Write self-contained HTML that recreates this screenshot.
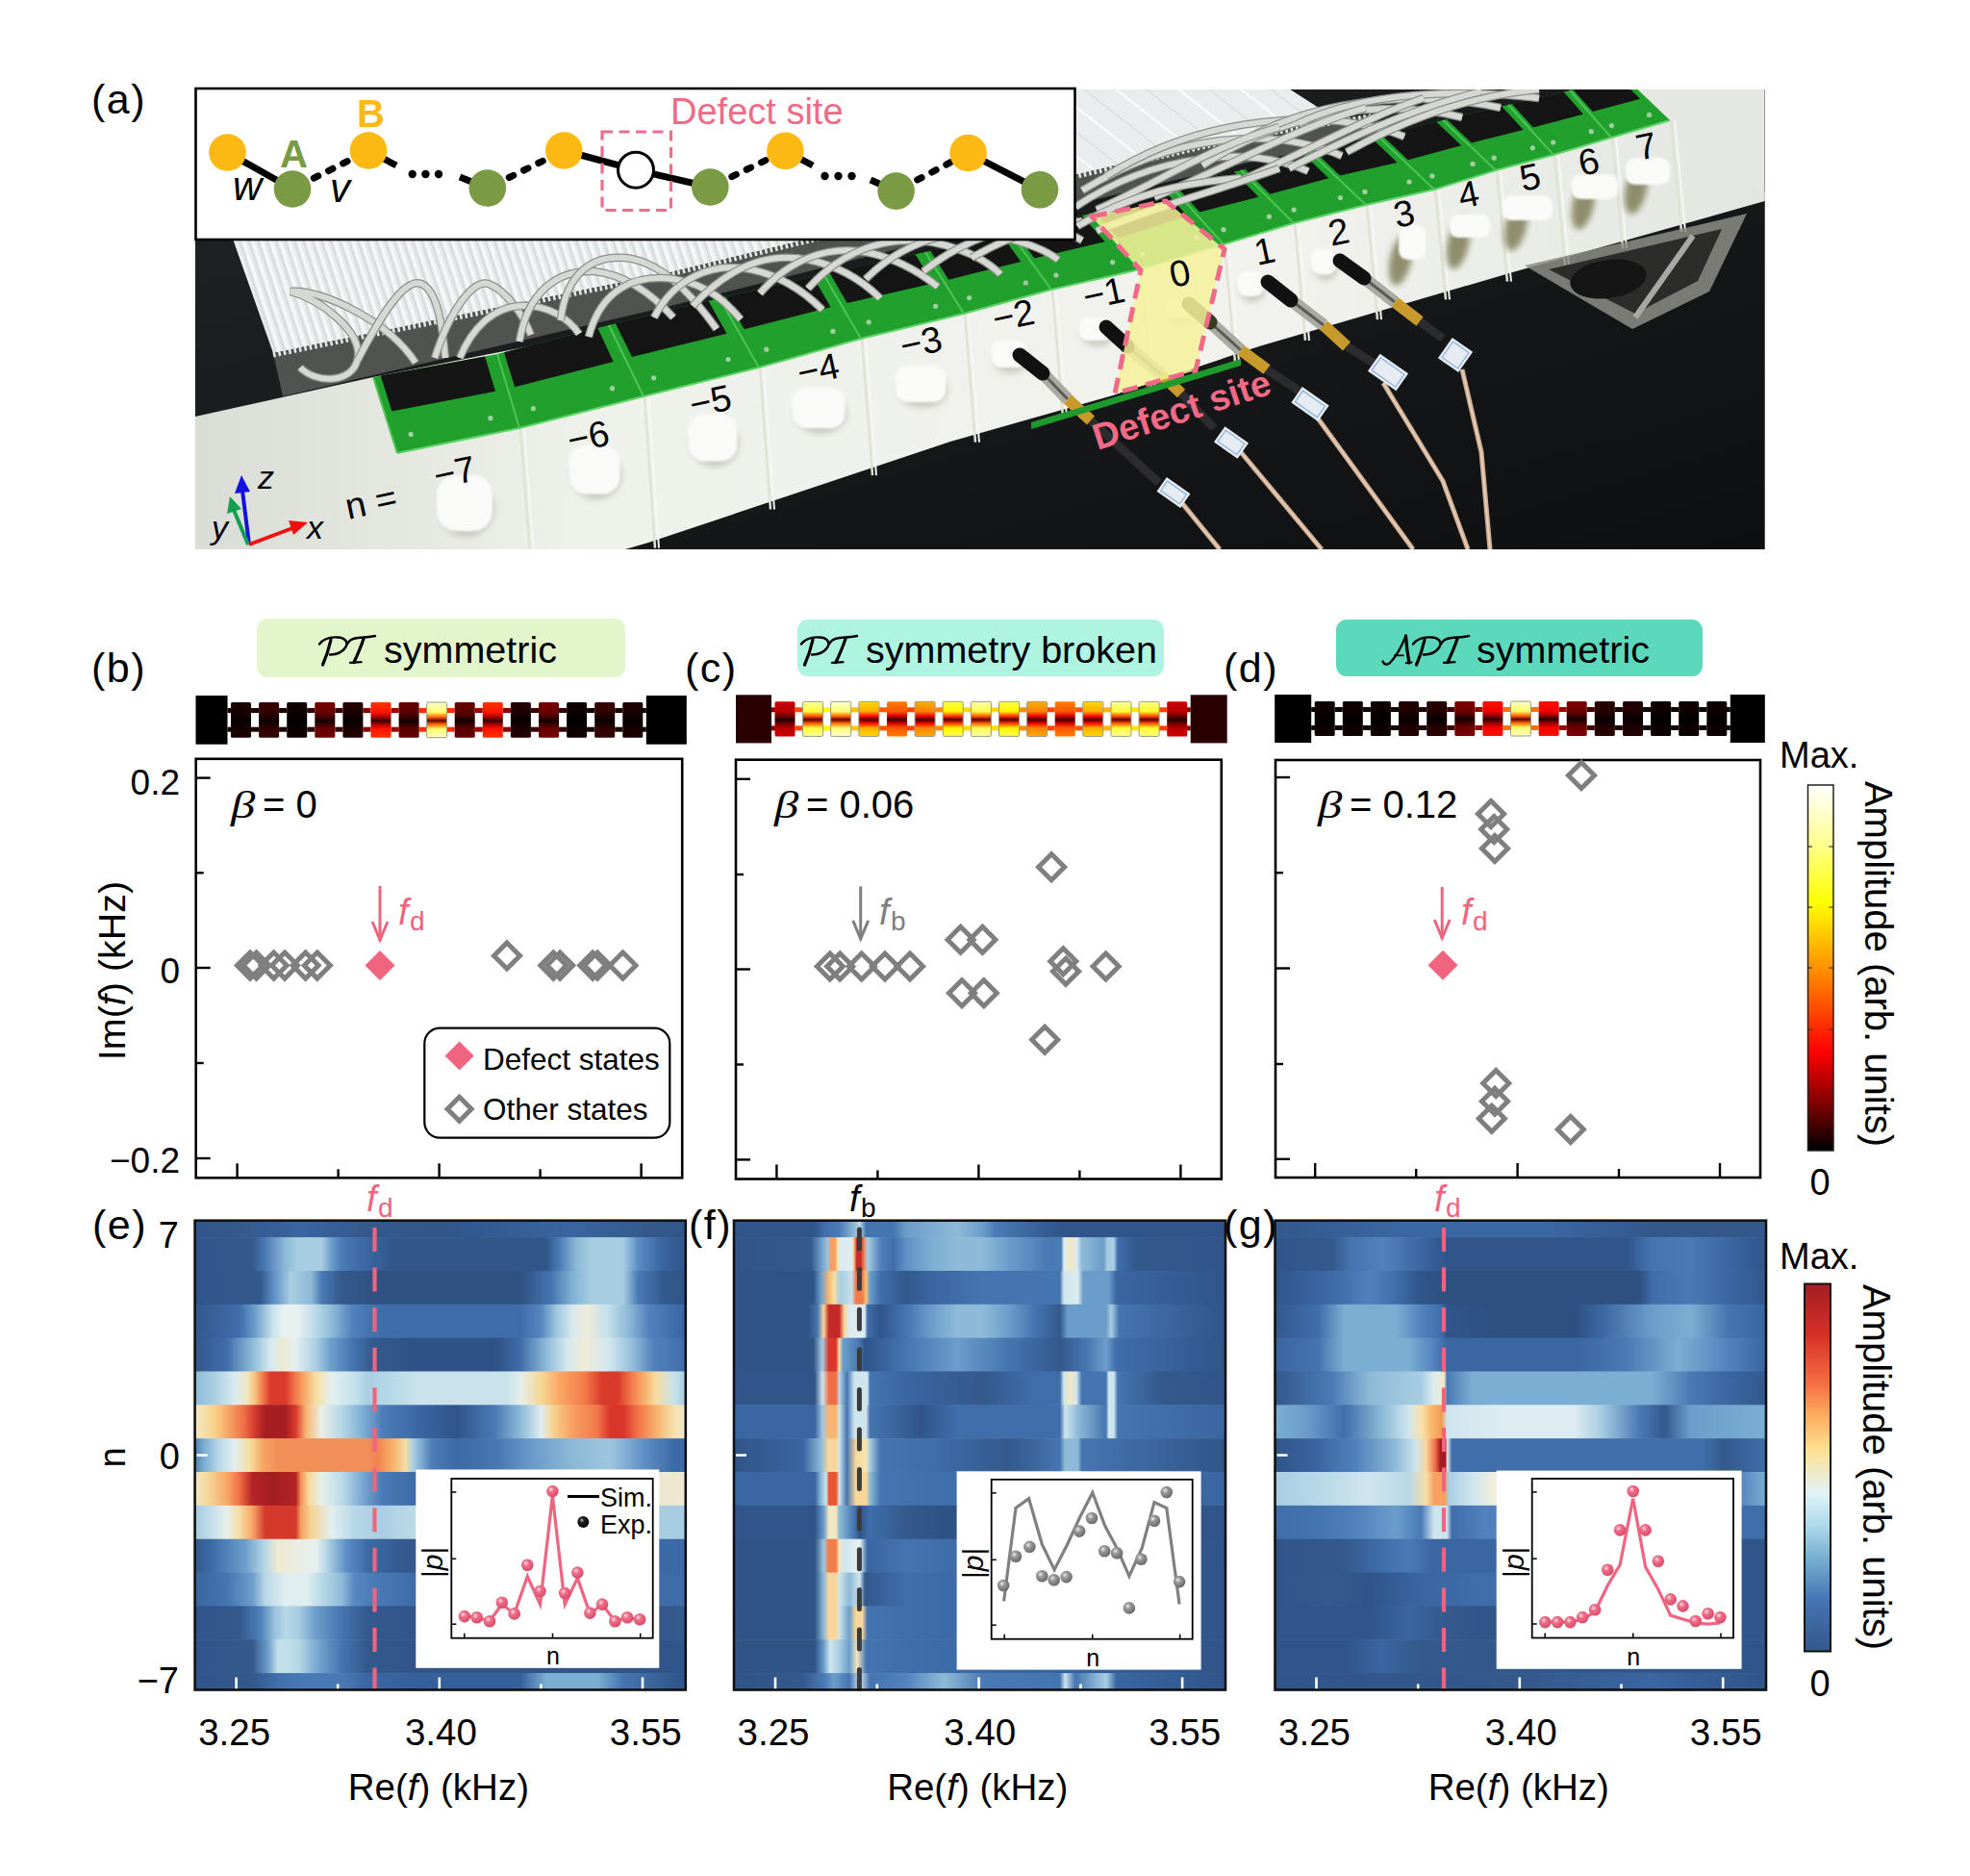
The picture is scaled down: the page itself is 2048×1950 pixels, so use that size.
<!DOCTYPE html><html><head><meta charset="utf-8"><style>html,body{margin:0;padding:0;background:#fff;}svg{display:block;font-family:"Liberation Sans",sans-serif;}</style></head><body><svg width="2048" height="1950" viewBox="0 0 2048 1950" font-family="'Liberation Sans', sans-serif"><defs><linearGradient id="g1" x1="0" y1="0" x2="0" y2="1"><stop offset="0" stop-color="#1b0000"/><stop offset="0.28" stop-color="#180000"/><stop offset="0.42" stop-color="#0e0000"/><stop offset="0.52" stop-color="#040000"/><stop offset="0.62" stop-color="#0e0000"/><stop offset="0.76" stop-color="#180000"/><stop offset="1" stop-color="#1b0000"/></linearGradient><linearGradient id="g2" x1="0" y1="0" x2="0" y2="1"><stop offset="0" stop-color="#360000"/><stop offset="0.28" stop-color="#300000"/><stop offset="0.42" stop-color="#1d0000"/><stop offset="0.52" stop-color="#080000"/><stop offset="0.62" stop-color="#1d0000"/><stop offset="0.76" stop-color="#300000"/><stop offset="1" stop-color="#360000"/></linearGradient><linearGradient id="g3" x1="0" y1="0" x2="0" y2="1"><stop offset="0" stop-color="#0d0000"/><stop offset="0.28" stop-color="#0c0000"/><stop offset="0.42" stop-color="#070000"/><stop offset="0.52" stop-color="#020000"/><stop offset="0.62" stop-color="#070000"/><stop offset="0.76" stop-color="#0c0000"/><stop offset="1" stop-color="#0d0000"/></linearGradient><linearGradient id="g4" x1="0" y1="0" x2="0" y2="1"><stop offset="0" stop-color="#730000"/><stop offset="0.28" stop-color="#680000"/><stop offset="0.42" stop-color="#3f0000"/><stop offset="0.52" stop-color="#110000"/><stop offset="0.62" stop-color="#3f0000"/><stop offset="0.76" stop-color="#680000"/><stop offset="1" stop-color="#730000"/></linearGradient><linearGradient id="g5" x1="0" y1="0" x2="0" y2="1"><stop offset="0" stop-color="#220000"/><stop offset="0.28" stop-color="#1e0000"/><stop offset="0.42" stop-color="#120000"/><stop offset="0.52" stop-color="#050000"/><stop offset="0.62" stop-color="#120000"/><stop offset="0.76" stop-color="#1e0000"/><stop offset="1" stop-color="#220000"/></linearGradient><linearGradient id="g6" x1="0" y1="0" x2="0" y2="1"><stop offset="0" stop-color="#ff3300"/><stop offset="0.28" stop-color="#ff1400"/><stop offset="0.42" stop-color="#a80000"/><stop offset="0.52" stop-color="#2d0000"/><stop offset="0.62" stop-color="#a80000"/><stop offset="0.76" stop-color="#ff1400"/><stop offset="1" stop-color="#ff3300"/></linearGradient><linearGradient id="g7" x1="0" y1="0" x2="0" y2="1"><stop offset="0" stop-color="#650000"/><stop offset="0.28" stop-color="#5b0000"/><stop offset="0.42" stop-color="#380000"/><stop offset="0.52" stop-color="#0f0000"/><stop offset="0.62" stop-color="#380000"/><stop offset="0.76" stop-color="#5b0000"/><stop offset="1" stop-color="#650000"/></linearGradient><linearGradient id="g8" x1="0" y1="0" x2="0" y2="1"><stop offset="0" stop-color="#ffffcb"/><stop offset="0.28" stop-color="#ffff6b"/><stop offset="0.42" stop-color="#ff6400"/><stop offset="0.52" stop-color="#600000"/><stop offset="0.62" stop-color="#ff6400"/><stop offset="0.76" stop-color="#ffff6b"/><stop offset="1" stop-color="#ffffcb"/></linearGradient><linearGradient id="g9" x1="0" y1="0" x2="0" y2="1"><stop offset="0" stop-color="#650000"/><stop offset="0.28" stop-color="#5b0000"/><stop offset="0.42" stop-color="#380000"/><stop offset="0.52" stop-color="#0f0000"/><stop offset="0.62" stop-color="#380000"/><stop offset="0.76" stop-color="#5b0000"/><stop offset="1" stop-color="#650000"/></linearGradient><linearGradient id="g10" x1="0" y1="0" x2="0" y2="1"><stop offset="0" stop-color="#ff3300"/><stop offset="0.28" stop-color="#ff1400"/><stop offset="0.42" stop-color="#a80000"/><stop offset="0.52" stop-color="#2d0000"/><stop offset="0.62" stop-color="#a80000"/><stop offset="0.76" stop-color="#ff1400"/><stop offset="1" stop-color="#ff3300"/></linearGradient><linearGradient id="g11" x1="0" y1="0" x2="0" y2="1"><stop offset="0" stop-color="#220000"/><stop offset="0.28" stop-color="#1e0000"/><stop offset="0.42" stop-color="#120000"/><stop offset="0.52" stop-color="#050000"/><stop offset="0.62" stop-color="#120000"/><stop offset="0.76" stop-color="#1e0000"/><stop offset="1" stop-color="#220000"/></linearGradient><linearGradient id="g12" x1="0" y1="0" x2="0" y2="1"><stop offset="0" stop-color="#730000"/><stop offset="0.28" stop-color="#680000"/><stop offset="0.42" stop-color="#3f0000"/><stop offset="0.52" stop-color="#110000"/><stop offset="0.62" stop-color="#3f0000"/><stop offset="0.76" stop-color="#680000"/><stop offset="1" stop-color="#730000"/></linearGradient><linearGradient id="g13" x1="0" y1="0" x2="0" y2="1"><stop offset="0" stop-color="#0d0000"/><stop offset="0.28" stop-color="#0c0000"/><stop offset="0.42" stop-color="#070000"/><stop offset="0.52" stop-color="#020000"/><stop offset="0.62" stop-color="#070000"/><stop offset="0.76" stop-color="#0c0000"/><stop offset="1" stop-color="#0d0000"/></linearGradient><linearGradient id="g14" x1="0" y1="0" x2="0" y2="1"><stop offset="0" stop-color="#360000"/><stop offset="0.28" stop-color="#300000"/><stop offset="0.42" stop-color="#1d0000"/><stop offset="0.52" stop-color="#080000"/><stop offset="0.62" stop-color="#1d0000"/><stop offset="0.76" stop-color="#300000"/><stop offset="1" stop-color="#360000"/></linearGradient><linearGradient id="g15" x1="0" y1="0" x2="0" y2="1"><stop offset="0" stop-color="#1b0000"/><stop offset="0.28" stop-color="#180000"/><stop offset="0.42" stop-color="#0e0000"/><stop offset="0.52" stop-color="#040000"/><stop offset="0.62" stop-color="#0e0000"/><stop offset="0.76" stop-color="#180000"/><stop offset="1" stop-color="#1b0000"/></linearGradient><linearGradient id="g16" x1="0" y1="0" x2="0" y2="1"><stop offset="0" stop-color="#cb0000"/><stop offset="0.28" stop-color="#b70000"/><stop offset="0.42" stop-color="#700000"/><stop offset="0.52" stop-color="#1e0000"/><stop offset="0.62" stop-color="#700000"/><stop offset="0.76" stop-color="#b70000"/><stop offset="1" stop-color="#cb0000"/></linearGradient><linearGradient id="g17" x1="0" y1="0" x2="0" y2="1"><stop offset="0" stop-color="#ffff99"/><stop offset="0.28" stop-color="#ffff3d"/><stop offset="0.42" stop-color="#ff5100"/><stop offset="0.52" stop-color="#5b0000"/><stop offset="0.62" stop-color="#ff5100"/><stop offset="0.76" stop-color="#ffff3d"/><stop offset="1" stop-color="#ffff99"/></linearGradient><linearGradient id="g18" x1="0" y1="0" x2="0" y2="1"><stop offset="0" stop-color="#ffffd6"/><stop offset="0.28" stop-color="#ffff74"/><stop offset="0.42" stop-color="#ff6800"/><stop offset="0.52" stop-color="#610000"/><stop offset="0.62" stop-color="#ff6800"/><stop offset="0.76" stop-color="#ffff74"/><stop offset="1" stop-color="#ffffd6"/></linearGradient><linearGradient id="g19" x1="0" y1="0" x2="0" y2="1"><stop offset="0" stop-color="#ffdc00"/><stop offset="0.28" stop-color="#ffad00"/><stop offset="0.42" stop-color="#ff0600"/><stop offset="0.52" stop-color="#470000"/><stop offset="0.62" stop-color="#ff0600"/><stop offset="0.76" stop-color="#ffad00"/><stop offset="1" stop-color="#ffdc00"/></linearGradient><linearGradient id="g20" x1="0" y1="0" x2="0" y2="1"><stop offset="0" stop-color="#ff7d00"/><stop offset="0.28" stop-color="#ff5700"/><stop offset="0.42" stop-color="#d10000"/><stop offset="0.52" stop-color="#390000"/><stop offset="0.62" stop-color="#d10000"/><stop offset="0.76" stop-color="#ff5700"/><stop offset="1" stop-color="#ff7d00"/></linearGradient><linearGradient id="g21" x1="0" y1="0" x2="0" y2="1"><stop offset="0" stop-color="#ffad00"/><stop offset="0.28" stop-color="#ff8200"/><stop offset="0.42" stop-color="#eb0000"/><stop offset="0.52" stop-color="#400000"/><stop offset="0.62" stop-color="#eb0000"/><stop offset="0.76" stop-color="#ff8200"/><stop offset="1" stop-color="#ffad00"/></linearGradient><linearGradient id="g22" x1="0" y1="0" x2="0" y2="1"><stop offset="0" stop-color="#ffff47"/><stop offset="0.28" stop-color="#fff600"/><stop offset="0.42" stop-color="#ff3300"/><stop offset="0.52" stop-color="#530000"/><stop offset="0.62" stop-color="#ff3300"/><stop offset="0.76" stop-color="#fff600"/><stop offset="1" stop-color="#ffff47"/></linearGradient><linearGradient id="g23" x1="0" y1="0" x2="0" y2="1"><stop offset="0" stop-color="#ffffad"/><stop offset="0.28" stop-color="#ffff4f"/><stop offset="0.42" stop-color="#ff5900"/><stop offset="0.52" stop-color="#5d0000"/><stop offset="0.62" stop-color="#ff5900"/><stop offset="0.76" stop-color="#ffff4f"/><stop offset="1" stop-color="#ffffad"/></linearGradient><linearGradient id="g24" x1="0" y1="0" x2="0" y2="1"><stop offset="0" stop-color="#ffff47"/><stop offset="0.28" stop-color="#fff600"/><stop offset="0.42" stop-color="#ff3300"/><stop offset="0.52" stop-color="#530000"/><stop offset="0.62" stop-color="#ff3300"/><stop offset="0.76" stop-color="#fff600"/><stop offset="1" stop-color="#ffff47"/></linearGradient><linearGradient id="g25" x1="0" y1="0" x2="0" y2="1"><stop offset="0" stop-color="#ffad00"/><stop offset="0.28" stop-color="#ff8200"/><stop offset="0.42" stop-color="#eb0000"/><stop offset="0.52" stop-color="#400000"/><stop offset="0.62" stop-color="#eb0000"/><stop offset="0.76" stop-color="#ff8200"/><stop offset="1" stop-color="#ffad00"/></linearGradient><linearGradient id="g26" x1="0" y1="0" x2="0" y2="1"><stop offset="0" stop-color="#ff7d00"/><stop offset="0.28" stop-color="#ff5700"/><stop offset="0.42" stop-color="#d10000"/><stop offset="0.52" stop-color="#390000"/><stop offset="0.62" stop-color="#d10000"/><stop offset="0.76" stop-color="#ff5700"/><stop offset="1" stop-color="#ff7d00"/></linearGradient><linearGradient id="g27" x1="0" y1="0" x2="0" y2="1"><stop offset="0" stop-color="#ffdc00"/><stop offset="0.28" stop-color="#ffad00"/><stop offset="0.42" stop-color="#ff0600"/><stop offset="0.52" stop-color="#470000"/><stop offset="0.62" stop-color="#ff0600"/><stop offset="0.76" stop-color="#ffad00"/><stop offset="1" stop-color="#ffdc00"/></linearGradient><linearGradient id="g28" x1="0" y1="0" x2="0" y2="1"><stop offset="0" stop-color="#ffff99"/><stop offset="0.28" stop-color="#ffff3d"/><stop offset="0.42" stop-color="#ff5100"/><stop offset="0.52" stop-color="#5b0000"/><stop offset="0.62" stop-color="#ff5100"/><stop offset="0.76" stop-color="#ffff3d"/><stop offset="1" stop-color="#ffff99"/></linearGradient><linearGradient id="g29" x1="0" y1="0" x2="0" y2="1"><stop offset="0" stop-color="#ffff84"/><stop offset="0.28" stop-color="#ffff2a"/><stop offset="0.42" stop-color="#ff4a00"/><stop offset="0.52" stop-color="#590000"/><stop offset="0.62" stop-color="#ff4a00"/><stop offset="0.76" stop-color="#ffff2a"/><stop offset="1" stop-color="#ffff84"/></linearGradient><linearGradient id="g30" x1="0" y1="0" x2="0" y2="1"><stop offset="0" stop-color="#cb0000"/><stop offset="0.28" stop-color="#b70000"/><stop offset="0.42" stop-color="#700000"/><stop offset="0.52" stop-color="#1e0000"/><stop offset="0.62" stop-color="#700000"/><stop offset="0.76" stop-color="#b70000"/><stop offset="1" stop-color="#cb0000"/></linearGradient><linearGradient id="g31" x1="0" y1="0" x2="0" y2="1"><stop offset="0" stop-color="#0d0000"/><stop offset="0.28" stop-color="#0c0000"/><stop offset="0.42" stop-color="#070000"/><stop offset="0.52" stop-color="#020000"/><stop offset="0.62" stop-color="#070000"/><stop offset="0.76" stop-color="#0c0000"/><stop offset="1" stop-color="#0d0000"/></linearGradient><linearGradient id="g32" x1="0" y1="0" x2="0" y2="1"><stop offset="0" stop-color="#0d0000"/><stop offset="0.28" stop-color="#0c0000"/><stop offset="0.42" stop-color="#070000"/><stop offset="0.52" stop-color="#020000"/><stop offset="0.62" stop-color="#070000"/><stop offset="0.76" stop-color="#0c0000"/><stop offset="1" stop-color="#0d0000"/></linearGradient><linearGradient id="g33" x1="0" y1="0" x2="0" y2="1"><stop offset="0" stop-color="#0d0000"/><stop offset="0.28" stop-color="#0c0000"/><stop offset="0.42" stop-color="#070000"/><stop offset="0.52" stop-color="#020000"/><stop offset="0.62" stop-color="#070000"/><stop offset="0.76" stop-color="#0c0000"/><stop offset="1" stop-color="#0d0000"/></linearGradient><linearGradient id="g34" x1="0" y1="0" x2="0" y2="1"><stop offset="0" stop-color="#220000"/><stop offset="0.28" stop-color="#1e0000"/><stop offset="0.42" stop-color="#120000"/><stop offset="0.52" stop-color="#050000"/><stop offset="0.62" stop-color="#120000"/><stop offset="0.76" stop-color="#1e0000"/><stop offset="1" stop-color="#220000"/></linearGradient><linearGradient id="g35" x1="0" y1="0" x2="0" y2="1"><stop offset="0" stop-color="#280000"/><stop offset="0.28" stop-color="#240000"/><stop offset="0.42" stop-color="#160000"/><stop offset="0.52" stop-color="#060000"/><stop offset="0.62" stop-color="#160000"/><stop offset="0.76" stop-color="#240000"/><stop offset="1" stop-color="#280000"/></linearGradient><linearGradient id="g36" x1="0" y1="0" x2="0" y2="1"><stop offset="0" stop-color="#7a0000"/><stop offset="0.28" stop-color="#6e0000"/><stop offset="0.42" stop-color="#430000"/><stop offset="0.52" stop-color="#120000"/><stop offset="0.62" stop-color="#430000"/><stop offset="0.76" stop-color="#6e0000"/><stop offset="1" stop-color="#7a0000"/></linearGradient><linearGradient id="g37" x1="0" y1="0" x2="0" y2="1"><stop offset="0" stop-color="#ff1100"/><stop offset="0.28" stop-color="#f40000"/><stop offset="0.42" stop-color="#950000"/><stop offset="0.52" stop-color="#280000"/><stop offset="0.62" stop-color="#950000"/><stop offset="0.76" stop-color="#f40000"/><stop offset="1" stop-color="#ff1100"/></linearGradient><linearGradient id="g38" x1="0" y1="0" x2="0" y2="1"><stop offset="0" stop-color="#ffffcb"/><stop offset="0.28" stop-color="#ffff6b"/><stop offset="0.42" stop-color="#ff6400"/><stop offset="0.52" stop-color="#600000"/><stop offset="0.62" stop-color="#ff6400"/><stop offset="0.76" stop-color="#ffff6b"/><stop offset="1" stop-color="#ffffcb"/></linearGradient><linearGradient id="g39" x1="0" y1="0" x2="0" y2="1"><stop offset="0" stop-color="#ff1100"/><stop offset="0.28" stop-color="#f40000"/><stop offset="0.42" stop-color="#950000"/><stop offset="0.52" stop-color="#280000"/><stop offset="0.62" stop-color="#950000"/><stop offset="0.76" stop-color="#f40000"/><stop offset="1" stop-color="#ff1100"/></linearGradient><linearGradient id="g40" x1="0" y1="0" x2="0" y2="1"><stop offset="0" stop-color="#7a0000"/><stop offset="0.28" stop-color="#6e0000"/><stop offset="0.42" stop-color="#430000"/><stop offset="0.52" stop-color="#120000"/><stop offset="0.62" stop-color="#430000"/><stop offset="0.76" stop-color="#6e0000"/><stop offset="1" stop-color="#7a0000"/></linearGradient><linearGradient id="g41" x1="0" y1="0" x2="0" y2="1"><stop offset="0" stop-color="#280000"/><stop offset="0.28" stop-color="#240000"/><stop offset="0.42" stop-color="#160000"/><stop offset="0.52" stop-color="#060000"/><stop offset="0.62" stop-color="#160000"/><stop offset="0.76" stop-color="#240000"/><stop offset="1" stop-color="#280000"/></linearGradient><linearGradient id="g42" x1="0" y1="0" x2="0" y2="1"><stop offset="0" stop-color="#220000"/><stop offset="0.28" stop-color="#1e0000"/><stop offset="0.42" stop-color="#120000"/><stop offset="0.52" stop-color="#050000"/><stop offset="0.62" stop-color="#120000"/><stop offset="0.76" stop-color="#1e0000"/><stop offset="1" stop-color="#220000"/></linearGradient><linearGradient id="g43" x1="0" y1="0" x2="0" y2="1"><stop offset="0" stop-color="#0d0000"/><stop offset="0.28" stop-color="#0c0000"/><stop offset="0.42" stop-color="#070000"/><stop offset="0.52" stop-color="#020000"/><stop offset="0.62" stop-color="#070000"/><stop offset="0.76" stop-color="#0c0000"/><stop offset="1" stop-color="#0d0000"/></linearGradient><linearGradient id="g44" x1="0" y1="0" x2="0" y2="1"><stop offset="0" stop-color="#0d0000"/><stop offset="0.28" stop-color="#0c0000"/><stop offset="0.42" stop-color="#070000"/><stop offset="0.52" stop-color="#020000"/><stop offset="0.62" stop-color="#070000"/><stop offset="0.76" stop-color="#0c0000"/><stop offset="1" stop-color="#0d0000"/></linearGradient><linearGradient id="g45" x1="0" y1="0" x2="0" y2="1"><stop offset="0" stop-color="#0d0000"/><stop offset="0.28" stop-color="#0c0000"/><stop offset="0.42" stop-color="#070000"/><stop offset="0.52" stop-color="#020000"/><stop offset="0.62" stop-color="#070000"/><stop offset="0.76" stop-color="#0c0000"/><stop offset="1" stop-color="#0d0000"/></linearGradient><linearGradient id="g46" x1="0" y1="0" x2="0" y2="1"><stop offset="0" stop-color="#ffffff"/><stop offset="0.16" stop-color="#ffff90"/><stop offset="0.32" stop-color="#ffff00"/><stop offset="0.53" stop-color="#ff8000"/><stop offset="0.73" stop-color="#ff0000"/><stop offset="0.87" stop-color="#800000"/><stop offset="1" stop-color="#000000"/></linearGradient><radialGradient id="ballP" cx="0.38" cy="0.35" r="0.65"><stop offset="0" stop-color="#ffe2e8"/><stop offset="0.35" stop-color="#f06f8a"/><stop offset="1" stop-color="#d84c68"/></radialGradient><radialGradient id="ballG" cx="0.38" cy="0.35" r="0.65"><stop offset="0" stop-color="#eeeeee"/><stop offset="0.35" stop-color="#9a9a9a"/><stop offset="1" stop-color="#6a6a6a"/></radialGradient><radialGradient id="ballK" cx="0.38" cy="0.35" r="0.65"><stop offset="0" stop-color="#cccccc"/><stop offset="0.3" stop-color="#222"/><stop offset="1" stop-color="#000"/></radialGradient><linearGradient id="g47" x1="0" y1="0" x2="1" y2="0"><stop offset="0.0000" stop-color="#30568a"/><stop offset="0.0911" stop-color="#34598c"/><stop offset="0.2214" stop-color="#3a65a0"/><stop offset="0.3516" stop-color="#34598c"/><stop offset="0.5078" stop-color="#30568a"/><stop offset="0.7682" stop-color="#3a65a0"/><stop offset="0.9245" stop-color="#34598c"/><stop offset="1.0000" stop-color="#30568a"/></linearGradient><linearGradient id="g48" x1="0" y1="0" x2="1" y2="0"><stop offset="0.0000" stop-color="#30558a"/><stop offset="0.1172" stop-color="#34598c"/><stop offset="0.1432" stop-color="#4a7ab5"/><stop offset="0.1849" stop-color="#8ebad7"/><stop offset="0.2109" stop-color="#a8cde2"/><stop offset="0.2578" stop-color="#a8cde2"/><stop offset="0.2786" stop-color="#6b9dcb"/><stop offset="0.2995" stop-color="#4a7ab5"/><stop offset="0.3516" stop-color="#3a66a1"/><stop offset="0.4036" stop-color="#30568a"/><stop offset="0.7161" stop-color="#30568a"/><stop offset="0.7422" stop-color="#4a7ab5"/><stop offset="0.7786" stop-color="#8ebad7"/><stop offset="0.8099" stop-color="#a8cde2"/><stop offset="0.8724" stop-color="#a8cde2"/><stop offset="0.9036" stop-color="#5b8cc4"/><stop offset="0.9505" stop-color="#3a66a1"/><stop offset="1.0000" stop-color="#30558a"/></linearGradient><linearGradient id="g49" x1="0" y1="0" x2="1" y2="0"><stop offset="0.0000" stop-color="#30558a"/><stop offset="0.1328" stop-color="#33598c"/><stop offset="0.1589" stop-color="#5b8cc4"/><stop offset="0.1953" stop-color="#a8cde2"/><stop offset="0.2370" stop-color="#8ebad7"/><stop offset="0.2578" stop-color="#4a7ab5"/><stop offset="0.2995" stop-color="#34598c"/><stop offset="0.3620" stop-color="#2f5282"/><stop offset="0.6641" stop-color="#2f5282"/><stop offset="0.7266" stop-color="#4575b0"/><stop offset="0.7682" stop-color="#7eb0d3"/><stop offset="0.8099" stop-color="#a8cde2"/><stop offset="0.8724" stop-color="#a8cde2"/><stop offset="0.9036" stop-color="#4a7ab5"/><stop offset="0.9557" stop-color="#33598c"/><stop offset="1.0000" stop-color="#30558a"/></linearGradient><linearGradient id="g50" x1="0" y1="0" x2="1" y2="0"><stop offset="0.0000" stop-color="#34598c"/><stop offset="0.0911" stop-color="#3f6eab"/><stop offset="0.1224" stop-color="#6b9dcb"/><stop offset="0.1589" stop-color="#c8e2ec"/><stop offset="0.1797" stop-color="#e8f1f0"/><stop offset="0.2109" stop-color="#e8f1f0"/><stop offset="0.2474" stop-color="#b8d8e7"/><stop offset="0.2786" stop-color="#8ebad7"/><stop offset="0.3203" stop-color="#5282bd"/><stop offset="0.3516" stop-color="#4575b0"/><stop offset="0.3828" stop-color="#3f6dab"/><stop offset="0.6641" stop-color="#3f6dab"/><stop offset="0.7057" stop-color="#5687c1"/><stop offset="0.7370" stop-color="#9fc6df"/><stop offset="0.7682" stop-color="#d5e8ee"/><stop offset="0.7995" stop-color="#eeecda"/><stop offset="0.8411" stop-color="#c5e0ea"/><stop offset="0.8828" stop-color="#8ebad7"/><stop offset="0.9245" stop-color="#5282bd"/><stop offset="0.9766" stop-color="#3f6dab"/><stop offset="1.0000" stop-color="#3a66a1"/></linearGradient><linearGradient id="g51" x1="0" y1="0" x2="1" y2="0"><stop offset="0.0000" stop-color="#34598c"/><stop offset="0.0651" stop-color="#3f6eab"/><stop offset="0.1172" stop-color="#8ebad7"/><stop offset="0.1536" stop-color="#d5e9ef"/><stop offset="0.1797" stop-color="#efead2"/><stop offset="0.2057" stop-color="#e3eff0"/><stop offset="0.2474" stop-color="#a8cde2"/><stop offset="0.2786" stop-color="#6b9dcb"/><stop offset="0.3203" stop-color="#4575b0"/><stop offset="0.3620" stop-color="#34598c"/><stop offset="0.4557" stop-color="#2e5283"/><stop offset="0.6120" stop-color="#2e5283"/><stop offset="0.6641" stop-color="#3f6dab"/><stop offset="0.7161" stop-color="#8ebad7"/><stop offset="0.7578" stop-color="#d5e8ee"/><stop offset="0.7943" stop-color="#efebd6"/><stop offset="0.8411" stop-color="#d5e8ee"/><stop offset="0.8828" stop-color="#9fc6df"/><stop offset="0.9349" stop-color="#5282bd"/><stop offset="1.0000" stop-color="#3f6dab"/></linearGradient><linearGradient id="g52" x1="0" y1="0" x2="1" y2="0"><stop offset="0.0000" stop-color="#8fbbd8"/><stop offset="0.0391" stop-color="#a9cee2"/><stop offset="0.0807" stop-color="#d8eaf0"/><stop offset="0.1068" stop-color="#f0e6c0"/><stop offset="0.1224" stop-color="#f7c27e"/><stop offset="0.1380" stop-color="#f27d4b"/><stop offset="0.1536" stop-color="#d93a2b"/><stop offset="0.1849" stop-color="#d93a2b"/><stop offset="0.2005" stop-color="#f06c45"/><stop offset="0.2214" stop-color="#f8a566"/><stop offset="0.2474" stop-color="#f6dfa3"/><stop offset="0.2786" stop-color="#e3eff0"/><stop offset="0.3255" stop-color="#c5e1eb"/><stop offset="0.3516" stop-color="#a9cee2"/><stop offset="0.3932" stop-color="#b6d7e6"/><stop offset="0.4557" stop-color="#c9e3ec"/><stop offset="0.6380" stop-color="#c9e3ec"/><stop offset="0.6641" stop-color="#e6eeea"/><stop offset="0.7057" stop-color="#f6d794"/><stop offset="0.7422" stop-color="#f9a864"/><stop offset="0.7943" stop-color="#f47b49"/><stop offset="0.8307" stop-color="#d83a2b"/><stop offset="0.8620" stop-color="#d83a2b"/><stop offset="0.8828" stop-color="#f06b45"/><stop offset="0.9141" stop-color="#f8ac69"/><stop offset="0.9401" stop-color="#f5dca2"/><stop offset="0.9766" stop-color="#c7e2ec"/><stop offset="1.0000" stop-color="#a6cbe0"/></linearGradient><linearGradient id="g53" x1="0" y1="0" x2="1" y2="0"><stop offset="0.0000" stop-color="#f3e9c7"/><stop offset="0.0391" stop-color="#f8d28a"/><stop offset="0.0703" stop-color="#f6a163"/><stop offset="0.1016" stop-color="#ef6c44"/><stop offset="0.1224" stop-color="#d23b2c"/><stop offset="0.1432" stop-color="#a71e22"/><stop offset="0.1849" stop-color="#a71e22"/><stop offset="0.2057" stop-color="#d93b2b"/><stop offset="0.2266" stop-color="#f7b674"/><stop offset="0.2578" stop-color="#e9efe4"/><stop offset="0.2995" stop-color="#b5d6e6"/><stop offset="0.3411" stop-color="#7fb0d3"/><stop offset="0.3828" stop-color="#4c7eb9"/><stop offset="0.4557" stop-color="#3a67a3"/><stop offset="0.5339" stop-color="#30558a"/><stop offset="0.6120" stop-color="#4a7ab5"/><stop offset="0.6641" stop-color="#8fbbd8"/><stop offset="0.7057" stop-color="#dfedf0"/><stop offset="0.7318" stop-color="#f7d18c"/><stop offset="0.7682" stop-color="#f8a061"/><stop offset="0.8203" stop-color="#f1784a"/><stop offset="0.8464" stop-color="#d9352a"/><stop offset="0.8724" stop-color="#d9352a"/><stop offset="0.9036" stop-color="#f37548"/><stop offset="0.9401" stop-color="#f8b16c"/><stop offset="0.9766" stop-color="#f4e1ad"/><stop offset="1.0000" stop-color="#efe9cf"/></linearGradient><linearGradient id="g54" x1="0" y1="0" x2="1" y2="0"><stop offset="0.0000" stop-color="#4e80ba"/><stop offset="0.0182" stop-color="#7aaed2"/><stop offset="0.0495" stop-color="#b9d9e8"/><stop offset="0.0807" stop-color="#e1eef0"/><stop offset="0.1120" stop-color="#f6dea0"/><stop offset="0.1380" stop-color="#f6a566"/><stop offset="0.1693" stop-color="#f28f58"/><stop offset="0.3516" stop-color="#f28f58"/><stop offset="0.3724" stop-color="#f0834f"/><stop offset="0.4036" stop-color="#f8b36c"/><stop offset="0.4297" stop-color="#f4dda4"/><stop offset="0.4453" stop-color="#a8cde2"/><stop offset="0.4818" stop-color="#4d7fba"/><stop offset="0.5339" stop-color="#3c6aa6"/><stop offset="0.6120" stop-color="#4776b2"/><stop offset="0.6901" stop-color="#6b9cca"/><stop offset="0.7682" stop-color="#8cb8d6"/><stop offset="0.8464" stop-color="#9fc6df"/><stop offset="0.9141" stop-color="#5f90c6"/><stop offset="0.9766" stop-color="#3c6aa6"/><stop offset="1.0000" stop-color="#3c6aa6"/></linearGradient><linearGradient id="g55" x1="0" y1="0" x2="1" y2="0"><stop offset="0.0000" stop-color="#f2e6c4"/><stop offset="0.0286" stop-color="#f7d597"/><stop offset="0.0651" stop-color="#f7a867"/><stop offset="0.0911" stop-color="#f06d45"/><stop offset="0.1172" stop-color="#b52325"/><stop offset="0.1589" stop-color="#a31e22"/><stop offset="0.2057" stop-color="#b52325"/><stop offset="0.2161" stop-color="#f19459"/><stop offset="0.2318" stop-color="#f6d99b"/><stop offset="0.2578" stop-color="#e6f0ec"/><stop offset="0.2995" stop-color="#bcdbe8"/><stop offset="0.3516" stop-color="#6a9bcb"/><stop offset="0.3828" stop-color="#4a7ab5"/><stop offset="0.4479" stop-color="#3d6ba7"/><stop offset="0.9453" stop-color="#eee8d0"/><stop offset="1.0000" stop-color="#eee8d0"/></linearGradient><linearGradient id="g56" x1="0" y1="0" x2="1" y2="0"><stop offset="0.0000" stop-color="#a7cbe0"/><stop offset="0.0391" stop-color="#c9e2ec"/><stop offset="0.0651" stop-color="#e7efea"/><stop offset="0.0911" stop-color="#f5dda3"/><stop offset="0.1172" stop-color="#f8a566"/><stop offset="0.1432" stop-color="#d43a2b"/><stop offset="0.2057" stop-color="#d43a2b"/><stop offset="0.2161" stop-color="#f3a062"/><stop offset="0.2370" stop-color="#f6d394"/><stop offset="0.2786" stop-color="#e3eff0"/><stop offset="0.3255" stop-color="#b6d7e6"/><stop offset="0.3776" stop-color="#a9cde2"/><stop offset="0.4479" stop-color="#bcdbe8"/><stop offset="0.9453" stop-color="#a8cce0"/><stop offset="1.0000" stop-color="#a8cce0"/></linearGradient><linearGradient id="g57" x1="0" y1="0" x2="1" y2="0"><stop offset="0.0000" stop-color="#33598c"/><stop offset="0.0391" stop-color="#3f6eab"/><stop offset="0.1016" stop-color="#6b9dcb"/><stop offset="0.1432" stop-color="#b7d7e6"/><stop offset="0.1693" stop-color="#efead2"/><stop offset="0.2474" stop-color="#e5f0ef"/><stop offset="0.2734" stop-color="#a8cde2"/><stop offset="0.3099" stop-color="#5b8cc4"/><stop offset="0.3516" stop-color="#3c6aa6"/><stop offset="0.4297" stop-color="#34598c"/><stop offset="0.9453" stop-color="#3c6aa6"/><stop offset="1.0000" stop-color="#3c6aa6"/></linearGradient><linearGradient id="g58" x1="0" y1="0" x2="1" y2="0"><stop offset="0.0000" stop-color="#3a66a1"/><stop offset="0.0651" stop-color="#4575b0"/><stop offset="0.1172" stop-color="#6d9ecc"/><stop offset="0.1432" stop-color="#b7d7e6"/><stop offset="0.1849" stop-color="#e0eef0"/><stop offset="0.2266" stop-color="#e0eef0"/><stop offset="0.2578" stop-color="#b9d9e8"/><stop offset="0.2995" stop-color="#8ebad7"/><stop offset="0.3255" stop-color="#5687c1"/><stop offset="0.3776" stop-color="#4878b4"/><stop offset="0.4479" stop-color="#3f6dab"/><stop offset="0.9453" stop-color="#3e6ca8"/><stop offset="1.0000" stop-color="#3e6ca8"/></linearGradient><linearGradient id="g59" x1="0" y1="0" x2="1" y2="0"><stop offset="0.0000" stop-color="#30558a"/><stop offset="0.0911" stop-color="#34598c"/><stop offset="0.1328" stop-color="#4d7fba"/><stop offset="0.1641" stop-color="#9cc4dd"/><stop offset="0.1849" stop-color="#b8d8e7"/><stop offset="0.2109" stop-color="#a8cde2"/><stop offset="0.2474" stop-color="#6b9dcb"/><stop offset="0.2995" stop-color="#4575b0"/><stop offset="0.3516" stop-color="#34598c"/><stop offset="0.4479" stop-color="#30558a"/><stop offset="1.0000" stop-color="#34598c"/></linearGradient><linearGradient id="g60" x1="0" y1="0" x2="1" y2="0"><stop offset="0.0000" stop-color="#30558a"/><stop offset="0.1172" stop-color="#34598c"/><stop offset="0.1484" stop-color="#6b9dcb"/><stop offset="0.1693" stop-color="#c5e0ea"/><stop offset="0.2109" stop-color="#b8d8e7"/><stop offset="0.2578" stop-color="#6b9dcb"/><stop offset="0.2995" stop-color="#4575b0"/><stop offset="0.3516" stop-color="#33598c"/><stop offset="0.4479" stop-color="#30558a"/><stop offset="1.0000" stop-color="#30558a"/></linearGradient><linearGradient id="g61" x1="0" y1="0" x2="1" y2="0"><stop offset="0.0000" stop-color="#30558a"/><stop offset="0.1172" stop-color="#33598c"/><stop offset="0.1693" stop-color="#4071ad"/><stop offset="0.2214" stop-color="#4a7ab5"/><stop offset="0.2995" stop-color="#4a7ab5"/><stop offset="0.3516" stop-color="#3a67a3"/><stop offset="0.4479" stop-color="#35609a"/><stop offset="0.6641" stop-color="#35609a"/><stop offset="0.7161" stop-color="#7aaed2"/><stop offset="0.8203" stop-color="#7aaed2"/><stop offset="0.8724" stop-color="#4575b0"/><stop offset="0.9766" stop-color="#33598c"/><stop offset="1.0000" stop-color="#30558a"/></linearGradient><linearGradient id="g62" x1="0" y1="0" x2="1" y2="0"><stop offset="0.0000" stop-color="#30558a"/><stop offset="0.1619" stop-color="#30558a"/><stop offset="0.1828" stop-color="#3f6eab"/><stop offset="0.2141" stop-color="#4a7ab5"/><stop offset="0.2454" stop-color="#8ebad7"/><stop offset="0.2559" stop-color="#b8d8e8"/><stop offset="0.2689" stop-color="#4575b0"/><stop offset="0.3238" stop-color="#4575b0"/><stop offset="0.3499" stop-color="#6b9dcb"/><stop offset="0.4543" stop-color="#8ebad7"/><stop offset="0.5065" stop-color="#6b9dcb"/><stop offset="0.5326" stop-color="#4a7ab5"/><stop offset="0.6632" stop-color="#30558a"/><stop offset="1.0000" stop-color="#30558a"/></linearGradient><linearGradient id="g63" x1="0" y1="0" x2="1" y2="0"><stop offset="0.0000" stop-color="#2f5587"/><stop offset="0.1567" stop-color="#34598c"/><stop offset="0.1775" stop-color="#6b9dcb"/><stop offset="0.1922" stop-color="#9fc6df"/><stop offset="0.1948" stop-color="#f8a061"/><stop offset="0.2063" stop-color="#f8a061"/><stop offset="0.2099" stop-color="#f5dea6"/><stop offset="0.2167" stop-color="#dcecf0"/><stop offset="0.2402" stop-color="#dcecf0"/><stop offset="0.2444" stop-color="#f7c27e"/><stop offset="0.2496" stop-color="#c9302a"/><stop offset="0.2585" stop-color="#c9302a"/><stop offset="0.2637" stop-color="#f07a49"/><stop offset="0.2715" stop-color="#a8cde2"/><stop offset="0.2977" stop-color="#5282bd"/><stop offset="0.3238" stop-color="#3f6eab"/><stop offset="0.3499" stop-color="#5f90c6"/><stop offset="0.4021" stop-color="#7aaed2"/><stop offset="0.4543" stop-color="#8ebad7"/><stop offset="0.5065" stop-color="#8ebad7"/><stop offset="0.5587" stop-color="#6b9dcb"/><stop offset="0.6371" stop-color="#4a7ab5"/><stop offset="0.6658" stop-color="#4a7ab5"/><stop offset="0.6710" stop-color="#dcecf0"/><stop offset="0.6867" stop-color="#f3e6c0"/><stop offset="0.6971" stop-color="#dcecf0"/><stop offset="0.7076" stop-color="#8ebad7"/><stop offset="0.7520" stop-color="#6b9dcb"/><stop offset="0.7598" stop-color="#a8cde2"/><stop offset="0.7728" stop-color="#a8cde2"/><stop offset="0.7807" stop-color="#3f6eab"/><stop offset="0.8198" stop-color="#33598c"/><stop offset="1.0000" stop-color="#30558a"/></linearGradient><linearGradient id="g64" x1="0" y1="0" x2="1" y2="0"><stop offset="0.0000" stop-color="#2f5587"/><stop offset="0.1619" stop-color="#2f5587"/><stop offset="0.1775" stop-color="#6b9dcb"/><stop offset="0.1932" stop-color="#f8b86f"/><stop offset="0.2037" stop-color="#f6dfa6"/><stop offset="0.2167" stop-color="#a8cde2"/><stop offset="0.2402" stop-color="#c5e0ea"/><stop offset="0.2480" stop-color="#f07a49"/><stop offset="0.2611" stop-color="#f07a49"/><stop offset="0.2689" stop-color="#f6c27c"/><stop offset="0.2768" stop-color="#6b9dcb"/><stop offset="0.2977" stop-color="#3f6eab"/><stop offset="0.3499" stop-color="#34598c"/><stop offset="0.4021" stop-color="#3a66a1"/><stop offset="0.5065" stop-color="#4575b0"/><stop offset="0.6632" stop-color="#4575b0"/><stop offset="0.6710" stop-color="#cfe5ee"/><stop offset="0.6997" stop-color="#dcecf0"/><stop offset="0.7102" stop-color="#6b9dcb"/><stop offset="0.7624" stop-color="#6b9dcb"/><stop offset="0.7781" stop-color="#3a66a1"/><stop offset="1.0000" stop-color="#30558a"/></linearGradient><linearGradient id="g65" x1="0" y1="0" x2="1" y2="0"><stop offset="0.0000" stop-color="#2f5587"/><stop offset="0.1514" stop-color="#2f5587"/><stop offset="0.1697" stop-color="#4575b0"/><stop offset="0.1828" stop-color="#f8d699"/><stop offset="0.1932" stop-color="#c52a28"/><stop offset="0.2141" stop-color="#c52a28"/><stop offset="0.2245" stop-color="#f6d89a"/><stop offset="0.2350" stop-color="#dcecf0"/><stop offset="0.2663" stop-color="#dcecf0"/><stop offset="0.2715" stop-color="#3f6eab"/><stop offset="0.2977" stop-color="#30558a"/><stop offset="0.3499" stop-color="#4575b0"/><stop offset="0.4021" stop-color="#6b9dcb"/><stop offset="0.4543" stop-color="#8ebad7"/><stop offset="0.5065" stop-color="#8ebad7"/><stop offset="0.5587" stop-color="#6b9dcb"/><stop offset="0.6110" stop-color="#4575b0"/><stop offset="0.6632" stop-color="#34598c"/><stop offset="0.6789" stop-color="#6b9dcb"/><stop offset="0.7572" stop-color="#6b9dcb"/><stop offset="0.7676" stop-color="#a8cde2"/><stop offset="0.7833" stop-color="#4575b0"/><stop offset="1.0000" stop-color="#30558a"/></linearGradient><linearGradient id="g66" x1="0" y1="0" x2="1" y2="0"><stop offset="0.0000" stop-color="#2f5587"/><stop offset="0.1619" stop-color="#2f5587"/><stop offset="0.1802" stop-color="#a8cde2"/><stop offset="0.1932" stop-color="#d9352a"/><stop offset="0.2078" stop-color="#d9352a"/><stop offset="0.2141" stop-color="#f6dea6"/><stop offset="0.2219" stop-color="#6b9dcb"/><stop offset="0.2559" stop-color="#4575b0"/><stop offset="0.2663" stop-color="#30558a"/><stop offset="0.3499" stop-color="#4575b0"/><stop offset="0.4543" stop-color="#6b9dcb"/><stop offset="0.5587" stop-color="#4575b0"/><stop offset="0.6632" stop-color="#34598c"/><stop offset="0.7154" stop-color="#4575b0"/><stop offset="0.7572" stop-color="#6b9dcb"/><stop offset="0.7781" stop-color="#3f6eab"/><stop offset="1.0000" stop-color="#30558a"/></linearGradient><linearGradient id="g67" x1="0" y1="0" x2="1" y2="0"><stop offset="0.0000" stop-color="#30558a"/><stop offset="0.1645" stop-color="#30558a"/><stop offset="0.1802" stop-color="#cfe5ee"/><stop offset="0.1932" stop-color="#f06c45"/><stop offset="0.2078" stop-color="#f06c45"/><stop offset="0.2141" stop-color="#b8d8e8"/><stop offset="0.2298" stop-color="#4575b0"/><stop offset="0.2454" stop-color="#cfe5ee"/><stop offset="0.2715" stop-color="#cfe5ee"/><stop offset="0.2768" stop-color="#4575b0"/><stop offset="0.3499" stop-color="#3a66a1"/><stop offset="0.5065" stop-color="#34598c"/><stop offset="0.6110" stop-color="#3f6eab"/><stop offset="0.6632" stop-color="#3f6eab"/><stop offset="0.6710" stop-color="#cfe5ee"/><stop offset="0.6841" stop-color="#f3e6c0"/><stop offset="0.6971" stop-color="#cfe5ee"/><stop offset="0.7076" stop-color="#4575b0"/><stop offset="0.7572" stop-color="#4575b0"/><stop offset="0.7624" stop-color="#cfe5ee"/><stop offset="0.7728" stop-color="#cfe5ee"/><stop offset="0.7807" stop-color="#4575b0"/><stop offset="0.8721" stop-color="#34598c"/><stop offset="1.0000" stop-color="#30558a"/></linearGradient><linearGradient id="g68" x1="0" y1="0" x2="1" y2="0"><stop offset="0.0000" stop-color="#3a66a1"/><stop offset="0.1645" stop-color="#3a66a1"/><stop offset="0.1802" stop-color="#9fc6df"/><stop offset="0.1932" stop-color="#f8b56f"/><stop offset="0.2078" stop-color="#f8b56f"/><stop offset="0.2141" stop-color="#cfe5ee"/><stop offset="0.2298" stop-color="#4575b0"/><stop offset="0.2454" stop-color="#cfe5ee"/><stop offset="0.2689" stop-color="#cfe5ee"/><stop offset="0.2768" stop-color="#4575b0"/><stop offset="0.3812" stop-color="#30558a"/><stop offset="0.4543" stop-color="#3f6eab"/><stop offset="0.6632" stop-color="#3f6eab"/><stop offset="0.6736" stop-color="#cfe5ee"/><stop offset="0.6997" stop-color="#8ebad7"/><stop offset="0.7572" stop-color="#4575b0"/><stop offset="0.7624" stop-color="#cfe5ee"/><stop offset="0.7728" stop-color="#cfe5ee"/><stop offset="0.7807" stop-color="#4575b0"/><stop offset="1.0000" stop-color="#3a66a1"/></linearGradient><linearGradient id="g69" x1="0" y1="0" x2="1" y2="0"><stop offset="0.0000" stop-color="#30558a"/><stop offset="0.1410" stop-color="#3a66a1"/><stop offset="0.1775" stop-color="#8ebad7"/><stop offset="0.1932" stop-color="#f8d699"/><stop offset="0.2078" stop-color="#f8d699"/><stop offset="0.2141" stop-color="#cfe5ee"/><stop offset="0.2298" stop-color="#4575b0"/><stop offset="0.2480" stop-color="#f8d699"/><stop offset="0.2689" stop-color="#f6e5b4"/><stop offset="0.2768" stop-color="#a8cde2"/><stop offset="0.2977" stop-color="#4575b0"/><stop offset="0.4021" stop-color="#3f6eab"/><stop offset="0.5587" stop-color="#34598c"/><stop offset="0.6632" stop-color="#4575b0"/><stop offset="0.6736" stop-color="#8ebad7"/><stop offset="0.6997" stop-color="#8ebad7"/><stop offset="0.7076" stop-color="#4575b0"/><stop offset="1.0000" stop-color="#30558a"/></linearGradient><linearGradient id="g70" x1="0" y1="0" x2="1" y2="0"><stop offset="0.0000" stop-color="#3a66a1"/><stop offset="0.1645" stop-color="#3a66a1"/><stop offset="0.1775" stop-color="#8ebad7"/><stop offset="0.1880" stop-color="#cfe5ee"/><stop offset="0.1932" stop-color="#e8552f"/><stop offset="0.2078" stop-color="#e8552f"/><stop offset="0.2141" stop-color="#cfe5ee"/><stop offset="0.2298" stop-color="#4575b0"/><stop offset="0.2480" stop-color="#f8d699"/><stop offset="0.2689" stop-color="#f8d699"/><stop offset="0.2768" stop-color="#8ebad7"/><stop offset="0.2977" stop-color="#4575b0"/><stop offset="0.4543" stop-color="#3f6eab"/><stop offset="1.0000" stop-color="#3a66a1"/></linearGradient><linearGradient id="g71" x1="0" y1="0" x2="1" y2="0"><stop offset="0.0000" stop-color="#30558a"/><stop offset="0.1645" stop-color="#30558a"/><stop offset="0.1828" stop-color="#6b9dcb"/><stop offset="0.1932" stop-color="#f3e6c0"/><stop offset="0.2078" stop-color="#f3e6c0"/><stop offset="0.2141" stop-color="#8ebad7"/><stop offset="0.2454" stop-color="#4575b0"/><stop offset="0.2559" stop-color="#30558a"/><stop offset="0.2768" stop-color="#3f6eab"/><stop offset="0.3499" stop-color="#34598c"/><stop offset="0.4282" stop-color="#2e5283"/><stop offset="1.0000" stop-color="#30558a"/></linearGradient><linearGradient id="g72" x1="0" y1="0" x2="1" y2="0"><stop offset="0.0000" stop-color="#2f5587"/><stop offset="0.1645" stop-color="#2f5587"/><stop offset="0.1828" stop-color="#9fc6df"/><stop offset="0.1932" stop-color="#f27d4b"/><stop offset="0.2078" stop-color="#f27d4b"/><stop offset="0.2141" stop-color="#f3e6c0"/><stop offset="0.2245" stop-color="#cfe5ee"/><stop offset="0.2559" stop-color="#e8f1f0"/><stop offset="0.2715" stop-color="#3a66a1"/><stop offset="0.3499" stop-color="#4575b0"/><stop offset="0.4282" stop-color="#3f6eab"/><stop offset="1.0000" stop-color="#30558a"/></linearGradient><linearGradient id="g73" x1="0" y1="0" x2="1" y2="0"><stop offset="0.0000" stop-color="#2f5587"/><stop offset="0.1645" stop-color="#2f5587"/><stop offset="0.1828" stop-color="#8ebad7"/><stop offset="0.1932" stop-color="#f8d699"/><stop offset="0.2078" stop-color="#f8d699"/><stop offset="0.2141" stop-color="#cfe5ee"/><stop offset="0.2350" stop-color="#8ebad7"/><stop offset="0.2559" stop-color="#cfe5ee"/><stop offset="0.2663" stop-color="#34598c"/><stop offset="0.3499" stop-color="#3f6eab"/><stop offset="1.0000" stop-color="#30558a"/></linearGradient><linearGradient id="g74" x1="0" y1="0" x2="1" y2="0"><stop offset="0.0000" stop-color="#2f5587"/><stop offset="0.1645" stop-color="#2f5587"/><stop offset="0.1828" stop-color="#8ebad7"/><stop offset="0.1932" stop-color="#f8d699"/><stop offset="0.2078" stop-color="#f8d699"/><stop offset="0.2141" stop-color="#cfe5ee"/><stop offset="0.2350" stop-color="#6b9dcb"/><stop offset="0.2480" stop-color="#f8d699"/><stop offset="0.2611" stop-color="#f8d699"/><stop offset="0.2715" stop-color="#4575b0"/><stop offset="0.3499" stop-color="#3f6eab"/><stop offset="1.0000" stop-color="#30558a"/></linearGradient><linearGradient id="g75" x1="0" y1="0" x2="1" y2="0"><stop offset="0.0000" stop-color="#2f5587"/><stop offset="0.1645" stop-color="#2f5587"/><stop offset="0.1828" stop-color="#6b9dcb"/><stop offset="0.1958" stop-color="#cfe5ee"/><stop offset="0.2141" stop-color="#a8cde2"/><stop offset="0.2350" stop-color="#6b9dcb"/><stop offset="0.2507" stop-color="#f3e6c0"/><stop offset="0.2689" stop-color="#4575b0"/><stop offset="0.3499" stop-color="#3f6eab"/><stop offset="1.0000" stop-color="#30558a"/></linearGradient><linearGradient id="g76" x1="0" y1="0" x2="1" y2="0"><stop offset="0.0000" stop-color="#2f5587"/><stop offset="0.1410" stop-color="#34598c"/><stop offset="0.1828" stop-color="#4a7ab5"/><stop offset="0.2037" stop-color="#6b9dcb"/><stop offset="0.2350" stop-color="#4575b0"/><stop offset="0.2559" stop-color="#cfe5ee"/><stop offset="0.2768" stop-color="#4575b0"/><stop offset="0.3499" stop-color="#5282bd"/><stop offset="0.4282" stop-color="#8ebad7"/><stop offset="0.5065" stop-color="#4a7ab5"/><stop offset="0.6632" stop-color="#4575b0"/><stop offset="0.6736" stop-color="#cfe5ee"/><stop offset="0.6945" stop-color="#4575b0"/><stop offset="0.7572" stop-color="#a8cde2"/><stop offset="0.7781" stop-color="#3a66a1"/><stop offset="1.0000" stop-color="#30558a"/></linearGradient><linearGradient id="g77" x1="0" y1="0" x2="1" y2="0"><stop offset="0.0000" stop-color="#33598c"/><stop offset="0.2454" stop-color="#3a66a1"/><stop offset="0.5587" stop-color="#3a66a1"/><stop offset="0.7676" stop-color="#33598c"/><stop offset="1.0000" stop-color="#33598c"/></linearGradient><linearGradient id="g78" x1="0" y1="0" x2="1" y2="0"><stop offset="0.0000" stop-color="#30558a"/><stop offset="0.1149" stop-color="#34598c"/><stop offset="0.1567" stop-color="#4575b0"/><stop offset="0.2193" stop-color="#5282bd"/><stop offset="0.2977" stop-color="#3a66a1"/><stop offset="0.3499" stop-color="#30558a"/><stop offset="0.7154" stop-color="#30558a"/><stop offset="0.7676" stop-color="#4575b0"/><stop offset="0.8460" stop-color="#4a7ab5"/><stop offset="0.9243" stop-color="#3a66a1"/><stop offset="1.0000" stop-color="#30558a"/></linearGradient><linearGradient id="g79" x1="0" y1="0" x2="1" y2="0"><stop offset="0.0000" stop-color="#30558a"/><stop offset="0.1305" stop-color="#3f6eab"/><stop offset="0.1932" stop-color="#5282bd"/><stop offset="0.2454" stop-color="#3f6eab"/><stop offset="0.2977" stop-color="#30558a"/><stop offset="0.3499" stop-color="#2d5080"/><stop offset="0.7415" stop-color="#2d5080"/><stop offset="0.7676" stop-color="#3f6eab"/><stop offset="0.8460" stop-color="#4a7ab5"/><stop offset="0.9243" stop-color="#3a66a1"/><stop offset="1.0000" stop-color="#34598c"/></linearGradient><linearGradient id="g80" x1="0" y1="0" x2="1" y2="0"><stop offset="0.0000" stop-color="#34598c"/><stop offset="0.0888" stop-color="#3f6eab"/><stop offset="0.1410" stop-color="#7aaed2"/><stop offset="0.2454" stop-color="#7aaed2"/><stop offset="0.2977" stop-color="#5282bd"/><stop offset="0.3394" stop-color="#3f6eab"/><stop offset="0.3499" stop-color="#30558a"/><stop offset="0.4543" stop-color="#2d5080"/><stop offset="0.6110" stop-color="#2d5080"/><stop offset="0.6632" stop-color="#3a66a1"/><stop offset="0.7676" stop-color="#6b9dcb"/><stop offset="0.8460" stop-color="#7aaed2"/><stop offset="0.9243" stop-color="#4575b0"/><stop offset="1.0000" stop-color="#3a66a1"/></linearGradient><linearGradient id="g81" x1="0" y1="0" x2="1" y2="0"><stop offset="0.0000" stop-color="#3a66a1"/><stop offset="0.0888" stop-color="#4575b0"/><stop offset="0.1410" stop-color="#7aaed2"/><stop offset="0.2715" stop-color="#7aaed2"/><stop offset="0.3238" stop-color="#5282bd"/><stop offset="0.3499" stop-color="#3a66a1"/><stop offset="0.6110" stop-color="#3a66a1"/><stop offset="0.7154" stop-color="#4a7ab5"/><stop offset="0.8198" stop-color="#7aaed2"/><stop offset="0.9243" stop-color="#5282bd"/><stop offset="1.0000" stop-color="#3a66a1"/></linearGradient><linearGradient id="g82" x1="0" y1="0" x2="1" y2="0"><stop offset="0.0000" stop-color="#34598c"/><stop offset="0.1149" stop-color="#4a7ab5"/><stop offset="0.1932" stop-color="#8ebad7"/><stop offset="0.2977" stop-color="#a8cde2"/><stop offset="0.3238" stop-color="#dcecf0"/><stop offset="0.3446" stop-color="#f3e9c6"/><stop offset="0.3499" stop-color="#4a7ab5"/><stop offset="0.4021" stop-color="#7aaed2"/><stop offset="0.7676" stop-color="#7aaed2"/><stop offset="0.8460" stop-color="#4a7ab5"/><stop offset="0.9243" stop-color="#3a66a1"/><stop offset="1.0000" stop-color="#34598c"/></linearGradient><linearGradient id="g83" x1="0" y1="0" x2="1" y2="0"><stop offset="0.0000" stop-color="#7aaed2"/><stop offset="0.0627" stop-color="#6b9dcb"/><stop offset="0.1410" stop-color="#3f6eab"/><stop offset="0.2193" stop-color="#8ebad7"/><stop offset="0.2715" stop-color="#cfe5ee"/><stop offset="0.2977" stop-color="#f8e3ae"/><stop offset="0.3185" stop-color="#f9b96c"/><stop offset="0.3394" stop-color="#f39a55"/><stop offset="0.3499" stop-color="#cfe5ee"/><stop offset="0.4543" stop-color="#dcecf0"/><stop offset="0.6110" stop-color="#dcecf0"/><stop offset="0.6632" stop-color="#a8cde2"/><stop offset="0.7415" stop-color="#4a7ab5"/><stop offset="0.7937" stop-color="#34598c"/><stop offset="0.8460" stop-color="#6b9dcb"/><stop offset="1.0000" stop-color="#7aaed2"/></linearGradient><linearGradient id="g84" x1="0" y1="0" x2="1" y2="0"><stop offset="0.0000" stop-color="#30558a"/><stop offset="0.0888" stop-color="#3a66a1"/><stop offset="0.1671" stop-color="#5282bd"/><stop offset="0.2454" stop-color="#8ebad7"/><stop offset="0.2872" stop-color="#cfe5ee"/><stop offset="0.3081" stop-color="#f8d699"/><stop offset="0.3264" stop-color="#f06c45"/><stop offset="0.3368" stop-color="#a31e22"/><stop offset="0.3473" stop-color="#a31e22"/><stop offset="0.3509" stop-color="#e8f1f0"/><stop offset="0.3603" stop-color="#3f6eab"/><stop offset="0.5587" stop-color="#3f6eab"/><stop offset="0.8721" stop-color="#3f6eab"/><stop offset="0.9138" stop-color="#34598c"/><stop offset="1.0000" stop-color="#3f6eab"/></linearGradient><linearGradient id="g85" x1="0" y1="0" x2="1" y2="0"><stop offset="0.0000" stop-color="#a8cde2"/><stop offset="0.0888" stop-color="#b8d8e8"/><stop offset="0.1932" stop-color="#cfe5ee"/><stop offset="0.2715" stop-color="#b8d8e8"/><stop offset="0.3081" stop-color="#f6dea6"/><stop offset="0.3238" stop-color="#f8a061"/><stop offset="0.3473" stop-color="#f8a061"/><stop offset="0.3525" stop-color="#a8cde2"/><stop offset="0.4021" stop-color="#cfe5ee"/><stop offset="0.4439" stop-color="#f0eedb"/><stop offset="0.9452" stop-color="#5282bd"/><stop offset="1.0000" stop-color="#7aaed2"/></linearGradient><linearGradient id="g86" x1="0" y1="0" x2="1" y2="0"><stop offset="0.0000" stop-color="#3f6eab"/><stop offset="0.0888" stop-color="#4575b0"/><stop offset="0.1671" stop-color="#5282bd"/><stop offset="0.2454" stop-color="#6b9dcb"/><stop offset="0.2977" stop-color="#4a7ab5"/><stop offset="0.3238" stop-color="#cfe5ee"/><stop offset="0.3499" stop-color="#cfe5ee"/><stop offset="0.3603" stop-color="#3f6eab"/><stop offset="0.4282" stop-color="#5282bd"/><stop offset="0.9452" stop-color="#3f6eab"/><stop offset="1.0000" stop-color="#3f6eab"/></linearGradient><linearGradient id="g87" x1="0" y1="0" x2="1" y2="0"><stop offset="0.0000" stop-color="#30558a"/><stop offset="0.1410" stop-color="#34598c"/><stop offset="0.2193" stop-color="#3f6eab"/><stop offset="0.2715" stop-color="#4a7ab5"/><stop offset="0.3238" stop-color="#3a66a1"/><stop offset="0.4282" stop-color="#3a66a1"/><stop offset="0.9452" stop-color="#30558a"/><stop offset="1.0000" stop-color="#30558a"/></linearGradient><linearGradient id="g88" x1="0" y1="0" x2="1" y2="0"><stop offset="0.0000" stop-color="#30558a"/><stop offset="0.1149" stop-color="#34598c"/><stop offset="0.1932" stop-color="#30558a"/><stop offset="0.2977" stop-color="#3a66a1"/><stop offset="0.4282" stop-color="#3f6eab"/><stop offset="0.9452" stop-color="#30558a"/><stop offset="1.0000" stop-color="#30558a"/></linearGradient><linearGradient id="g89" x1="0" y1="0" x2="1" y2="0"><stop offset="0.0000" stop-color="#30558a"/><stop offset="0.1932" stop-color="#30558a"/><stop offset="0.2715" stop-color="#3a66a1"/><stop offset="0.3499" stop-color="#34598c"/><stop offset="0.4282" stop-color="#30558a"/><stop offset="1.0000" stop-color="#30558a"/></linearGradient><linearGradient id="g90" x1="0" y1="0" x2="1" y2="0"><stop offset="0.0000" stop-color="#30558a"/><stop offset="0.1410" stop-color="#30558a"/><stop offset="0.2193" stop-color="#3a66a1"/><stop offset="0.2977" stop-color="#34598c"/><stop offset="1.0000" stop-color="#30558a"/></linearGradient><linearGradient id="g91" x1="0" y1="0" x2="1" y2="0"><stop offset="0.0000" stop-color="#30558a"/><stop offset="0.5065" stop-color="#34598c"/><stop offset="0.7676" stop-color="#3a66a1"/><stop offset="1.0000" stop-color="#30558a"/></linearGradient><linearGradient id="g92" x1="0" y1="0" x2="0" y2="1"><stop offset="0" stop-color="#a21e22"/><stop offset="0.14" stop-color="#d73027"/><stop offset="0.27" stop-color="#f46d43"/><stop offset="0.36" stop-color="#fdae61"/><stop offset="0.45" stop-color="#fee090"/><stop offset="0.57" stop-color="#e0f3f8"/><stop offset="0.66" stop-color="#abd9e9"/><stop offset="0.75" stop-color="#74add1"/><stop offset="0.86" stop-color="#4575b4"/><stop offset="1" stop-color="#34588a"/></linearGradient><clipPath id="photoclip"><rect x="203" y="93" width="1631.7" height="478"/></clipPath><pattern id="fins" patternUnits="userSpaceOnUse" width="9" height="14" patternTransform="rotate(-18)"><rect width="9" height="14" fill="#e6eaea"/><rect width="3" height="14" fill="#f6f8f8"/><rect x="6" width="1.2" height="14" fill="#cdd2d2"/></pattern><linearGradient id="table" x1="0" y1="0" x2="1" y2="1"><stop offset="0" stop-color="#222426"/><stop offset="1" stop-color="#0e0f10"/></linearGradient><pattern id="fins2" patternUnits="userSpaceOnUse" width="40" height="40" patternTransform="rotate(-52)"><rect width="40" height="40" fill="#e9eded"/><rect width="2" height="40" fill="#fbfdfd"/><rect x="20" width="1" height="40" fill="#d3d8d8"/></pattern><linearGradient id="beam" x1="0" y1="0" x2="1" y2="0"><stop offset="0" stop-color="#dadcd6"/><stop offset="0.25" stop-color="#eff1eb"/><stop offset="0.7" stop-color="#f1f2ed"/><stop offset="1" stop-color="#e3e6e0"/></linearGradient><filter id="blur2" x="-50%" y="-50%" width="200%" height="200%"><feGaussianBlur stdDeviation="3"/></filter><filter id="blur1" x="-20%" y="-20%" width="140%" height="140%"><feGaussianBlur stdDeviation="1.2"/></filter></defs><g clip-path="url(#photoclip)"><rect x="203" y="93" width="1631.7" height="478" fill="#1e1f21"/><rect x="203" y="93" width="1631.7" height="478" fill="url(#table)"/><polygon points="150,93 1341,93 1380,118 1430,140 1293,141 1120,181 697,283 284,367 243,251 190,93" fill="url(#fins)"/><polygon points="1000,93 1341,93 1380,118 1430,140 1293,141 1120,181 1000,210" fill="url(#fins2)"/><polygon points="284,367 697,283 1120,181 1293,141 1430,118 1440,140 1293,170 1120,212 697,318 294,412" fill="#50534f"/><polyline points="284,369 697,285 1120,183 1293,143 1430,120" fill="none" stroke="#e6eaea" stroke-width="5" stroke-dasharray="2.5 3"/><polygon points="1646,93 1834.7,93 1834.7,209 1736,125 1690,94" fill="#e4e7e2"/><polygon points="203,433 388,392 1736,125 1834.7,200 1834.7,209 1576,282 1309,360 1157,411 988,459 674,564 650,571 203,571" fill="url(#beam)"/><line x1="541" y1="445" x2="552" y2="588" stroke="#dfe2d4" stroke-width="2.5"/><line x1="545" y1="445" x2="556" y2="588" stroke="#f6f7f2" stroke-width="2"/><line x1="670" y1="412" x2="681" y2="569.6592356687898" stroke="#dfe2d4" stroke-width="2.5"/><line x1="674" y1="412" x2="685" y2="569.6592356687898" stroke="#f6f7f2" stroke-width="2"/><line x1="790" y1="382" x2="801" y2="529.531847133758" stroke="#dfe2d4" stroke-width="2.5"/><line x1="794" y1="382" x2="805" y2="529.531847133758" stroke="#f6f7f2" stroke-width="2"/><line x1="896" y1="352" x2="907" y2="494.0859872611465" stroke="#dfe2d4" stroke-width="2.5"/><line x1="900" y1="352" x2="911" y2="494.0859872611465" stroke="#f6f7f2" stroke-width="2"/><line x1="1003" y1="326" x2="1014" y2="459.61538461538464" stroke="#dfe2d4" stroke-width="2.5"/><line x1="1007" y1="326" x2="1018" y2="459.61538461538464" stroke="#f6f7f2" stroke-width="2"/><line x1="1094" y1="301" x2="1105" y2="433.7692307692308" stroke="#dfe2d4" stroke-width="2.5"/><line x1="1098" y1="301" x2="1109" y2="433.7692307692308" stroke="#f6f7f2" stroke-width="2"/><line x1="1186" y1="280" x2="1197" y2="405.57894736842104" stroke="#dfe2d4" stroke-width="2.5"/><line x1="1190" y1="280" x2="1201" y2="405.57894736842104" stroke="#f6f7f2" stroke-width="2"/><line x1="1273" y1="254" x2="1284" y2="376.3881578947368" stroke="#dfe2d4" stroke-width="2.5"/><line x1="1277" y1="254" x2="1288" y2="376.3881578947368" stroke="#f6f7f2" stroke-width="2"/><line x1="1346" y1="232" x2="1357" y2="353.97752808988764" stroke="#dfe2d4" stroke-width="2.5"/><line x1="1350" y1="232" x2="1361" y2="353.97752808988764" stroke="#f6f7f2" stroke-width="2"/><line x1="1421" y1="213" x2="1432" y2="332.0674157303371" stroke="#dfe2d4" stroke-width="2.5"/><line x1="1425" y1="213" x2="1436" y2="332.0674157303371" stroke="#f6f7f2" stroke-width="2"/><line x1="1492" y1="197" x2="1503" y2="311.3258426966292" stroke="#dfe2d4" stroke-width="2.5"/><line x1="1496" y1="197" x2="1507" y2="311.3258426966292" stroke="#f6f7f2" stroke-width="2"/><line x1="1556" y1="177" x2="1567" y2="292.6292134831461" stroke="#dfe2d4" stroke-width="2.5"/><line x1="1560" y1="177" x2="1571" y2="292.6292134831461" stroke="#f6f7f2" stroke-width="2"/><line x1="1616" y1="161" x2="1627" y2="275.4116737533823" stroke="#dfe2d4" stroke-width="2.5"/><line x1="1620" y1="161" x2="1631" y2="275.4116737533823" stroke="#f6f7f2" stroke-width="2"/><line x1="1676" y1="143" x2="1687" y2="258.24893699265556" stroke="#dfe2d4" stroke-width="2.5"/><line x1="1680" y1="143" x2="1691" y2="258.24893699265556" stroke="#f6f7f2" stroke-width="2"/><line x1="1737" y1="125" x2="1748" y2="240.80015461925012" stroke="#dfe2d4" stroke-width="2.5"/><line x1="1741" y1="125" x2="1752" y2="240.80015461925012" stroke="#f6f7f2" stroke-width="2"/><polygon points="388.0,392.0 517.0,368.0 540.0,445.0 413.0,471.0" fill="#22a02d"/><polygon points="395.7,390.6 504.1,370.4 515.0,406.7 407.4,427.6" fill="#151515"/><line x1="413.0" y1="471.0" x2="540.0" y2="445.0" stroke="#5fd36a" stroke-width="2"/><line x1="413.0" y1="471.0" x2="388.0" y2="392.0" stroke="#4cc457" stroke-width="2"/><circle cx="427.1" cy="451.4" r="2.6" fill="#9fcf9f"/><circle cx="509.9" cy="434.7" r="2.6" fill="#9fcf9f"/><polygon points="517.0,368.0 633.0,338.0 669.0,412.0 540.0,445.0" fill="#22a02d"/><polygon points="524.0,366.2 621.4,341.0 637.7,375.9 535.1,402.3" fill="#151515"/><line x1="540.0" y1="445.0" x2="669.0" y2="412.0" stroke="#5fd36a" stroke-width="2"/><line x1="540.0" y1="445.0" x2="517.0" y2="368.0" stroke="#4cc457" stroke-width="2"/><circle cx="554.4" cy="424.7" r="2.6" fill="#9fcf9f"/><circle cx="636.5" cy="403.7" r="2.6" fill="#9fcf9f"/><polygon points="633.0,338.0 748.0,310.0 789.0,382.0 669.0,412.0" fill="#22a02d"/><polygon points="639.9,336.3 736.5,312.8 755.5,346.7 657.0,371.0" fill="#151515"/><line x1="669.0" y1="412.0" x2="789.0" y2="382.0" stroke="#5fd36a" stroke-width="2"/><line x1="669.0" y1="412.0" x2="633.0" y2="338.0" stroke="#4cc457" stroke-width="2"/><circle cx="679.6" cy="392.8" r="2.6" fill="#9fcf9f"/><circle cx="757.0" cy="373.5" r="2.6" fill="#9fcf9f"/><polygon points="748.0,310.0 856.0,285.0 895.0,352.0 789.0,382.0" fill="#22a02d"/><polygon points="754.5,308.5 845.2,287.5 863.6,319.2 773.7,342.2" fill="#151515"/><line x1="789.0" y1="382.0" x2="895.0" y2="352.0" stroke="#5fd36a" stroke-width="2"/><line x1="789.0" y1="382.0" x2="748.0" y2="310.0" stroke="#4cc457" stroke-width="2"/><circle cx="796.8" cy="363.2" r="2.6" fill="#9fcf9f"/><circle cx="865.9" cy="344.4" r="2.6" fill="#9fcf9f"/><polygon points="856.0,285.0 962.0,262.0 1002.0,326.0 895.0,352.0" fill="#22a02d"/><polygon points="862.4,283.6 951.4,264.3 970.2,294.5 880.7,315.0" fill="#151515"/><line x1="895.0" y1="352.0" x2="1002.0" y2="326.0" stroke="#5fd36a" stroke-width="2"/><line x1="895.0" y1="352.0" x2="856.0" y2="285.0" stroke="#4cc457" stroke-width="2"/><circle cx="903.2" cy="334.8" r="2.6" fill="#9fcf9f"/><circle cx="972.6" cy="318.3" r="2.6" fill="#9fcf9f"/><polygon points="962.0,262.0 1050.0,242.0 1093.0,301.0 1002.0,326.0" fill="#22a02d"/><polygon points="967.3,260.8 1041.2,244.0 1061.3,272.0 986.2,290.7" fill="#151515"/><line x1="1002.0" y1="326.0" x2="1093.0" y2="301.0" stroke="#5fd36a" stroke-width="2"/><line x1="1002.0" y1="326.0" x2="962.0" y2="262.0" stroke="#4cc457" stroke-width="2"/><circle cx="1007.6" cy="309.6" r="2.6" fill="#9fcf9f"/><circle cx="1066.3" cy="294.0" r="2.6" fill="#9fcf9f"/><polygon points="1050.0,242.0 1133.0,222.0 1185.0,280.0 1093.0,301.0" fill="#22a02d"/><polygon points="1055.0,240.8 1124.7,224.0 1148.7,251.3 1075.4,268.5" fill="#151515"/><line x1="1093.0" y1="301.0" x2="1185.0" y2="280.0" stroke="#5fd36a" stroke-width="2"/><line x1="1093.0" y1="301.0" x2="1050.0" y2="242.0" stroke="#4cc457" stroke-width="2"/><circle cx="1097.9" cy="286.1" r="2.6" fill="#9fcf9f"/><circle cx="1156.6" cy="272.6" r="2.6" fill="#9fcf9f"/><polygon points="1133.0,222.0 1217.0,193.0 1272.0,254.0 1185.0,280.0" fill="#22a02d"/><polygon points="1138.0,220.3 1208.6,195.9 1234.3,224.4 1162.6,247.6" fill="#151515"/><line x1="1185.0" y1="280.0" x2="1272.0" y2="254.0" stroke="#5fd36a" stroke-width="2"/><line x1="1185.0" y1="280.0" x2="1133.0" y2="222.0" stroke="#4cc457" stroke-width="2"/><circle cx="1187.6" cy="264.4" r="2.6" fill="#9fcf9f"/><circle cx="1243.7" cy="247.1" r="2.6" fill="#9fcf9f"/><polygon points="1217.0,193.0 1290.0,177.0 1345.0,232.0 1272.0,254.0" fill="#22a02d"/><polygon points="1221.4,192.0 1282.7,178.6 1308.5,204.7 1247.2,220.5" fill="#151515"/><line x1="1272.0" y1="254.0" x2="1345.0" y2="232.0" stroke="#5fd36a" stroke-width="2"/><line x1="1272.0" y1="254.0" x2="1217.0" y2="193.0" stroke="#4cc457" stroke-width="2"/><circle cx="1272.0" cy="238.7" r="2.6" fill="#9fcf9f"/><circle cx="1319.4" cy="225.2" r="2.6" fill="#9fcf9f"/><polygon points="1290.0,177.0 1361.0,157.0 1420.0,213.0 1345.0,232.0" fill="#22a02d"/><polygon points="1294.3,175.8 1353.9,159.0 1381.4,185.3 1320.2,201.7" fill="#151515"/><line x1="1345.0" y1="232.0" x2="1420.0" y2="213.0" stroke="#5fd36a" stroke-width="2"/><line x1="1345.0" y1="232.0" x2="1290.0" y2="177.0" stroke="#4cc457" stroke-width="2"/><circle cx="1345.1" cy="218.1" r="2.6" fill="#9fcf9f"/><circle cx="1393.4" cy="205.6" r="2.6" fill="#9fcf9f"/><polygon points="1361.0,157.0 1432.0,141.0 1491.0,197.0 1420.0,213.0" fill="#22a02d"/><polygon points="1365.3,156.0 1424.9,142.6 1452.6,168.9 1393.0,182.4" fill="#151515"/><line x1="1420.0" y1="213.0" x2="1491.0" y2="197.0" stroke="#5fd36a" stroke-width="2"/><line x1="1420.0" y1="213.0" x2="1361.0" y2="157.0" stroke="#4cc457" stroke-width="2"/><circle cx="1418.9" cy="199.4" r="2.6" fill="#9fcf9f"/><circle cx="1465.0" cy="189.0" r="2.6" fill="#9fcf9f"/><polygon points="1432.0,141.0 1500.0,125.0 1555.0,177.0 1491.0,197.0" fill="#22a02d"/><polygon points="1436.1,140.0 1493.2,126.6 1519.2,151.2 1463.7,166.2" fill="#151515"/><line x1="1491.0" y1="197.0" x2="1555.0" y2="177.0" stroke="#5fd36a" stroke-width="2"/><line x1="1491.0" y1="197.0" x2="1432.0" y2="141.0" stroke="#4cc457" stroke-width="2"/><circle cx="1488.9" cy="182.9" r="2.6" fill="#9fcf9f"/><circle cx="1531.0" cy="170.4" r="2.6" fill="#9fcf9f"/><polygon points="1500.0,125.0 1568.0,109.0 1615.0,161.0 1555.0,177.0" fill="#22a02d"/><polygon points="1504.1,124.0 1561.2,110.6 1583.7,135.0 1529.7,148.5" fill="#151515"/><line x1="1555.0" y1="177.0" x2="1615.0" y2="161.0" stroke="#5fd36a" stroke-width="2"/><line x1="1555.0" y1="177.0" x2="1500.0" y2="125.0" stroke="#4cc457" stroke-width="2"/><circle cx="1553.2" cy="164.2" r="2.6" fill="#9fcf9f"/><circle cx="1593.3" cy="153.8" r="2.6" fill="#9fcf9f"/><polygon points="1568.0,109.0 1632.0,94.0 1675.0,143.0 1615.0,161.0" fill="#22a02d"/><polygon points="1571.8,108.1 1625.6,95.5 1646.0,118.7 1593.8,132.5" fill="#151515"/><line x1="1615.0" y1="161.0" x2="1675.0" y2="143.0" stroke="#5fd36a" stroke-width="2"/><line x1="1615.0" y1="161.0" x2="1568.0" y2="109.0" stroke="#4cc457" stroke-width="2"/><circle cx="1614.7" cy="148.0" r="2.6" fill="#9fcf9f"/><circle cx="1654.2" cy="136.7" r="2.6" fill="#9fcf9f"/><polygon points="1632.0,94.0 1689.0,80.0 1736.0,125.0 1675.0,143.0" fill="#22a02d"/><polygon points="1635.4,93.2 1683.3,81.4 1705.2,102.7 1655.7,116.1" fill="#151515"/><line x1="1675.0" y1="143.0" x2="1736.0" y2="125.0" stroke="#5fd36a" stroke-width="2"/><line x1="1675.0" y1="143.0" x2="1632.0" y2="94.0" stroke="#4cc457" stroke-width="2"/><circle cx="1675.4" cy="130.6" r="2.6" fill="#9fcf9f"/><circle cx="1714.6" cy="119.4" r="2.6" fill="#9fcf9f"/><ellipse cx="485" cy="529" rx="29.0" ry="29.0" fill="#b9bcb0" opacity="0.7" filter="url(#blur2)"/><rect x="454.0" y="494.0" width="58" height="58" rx="20.3" fill="#fafbf8" filter="url(#blur1)"/><ellipse cx="620" cy="494" rx="26.5" ry="25.5" fill="#b9bcb0" opacity="0.7" filter="url(#blur2)"/><rect x="591.5" y="462.5" width="53" height="51" rx="17.8" fill="#fafbf8" filter="url(#blur1)"/><ellipse cx="743" cy="461" rx="25.5" ry="24.5" fill="#b9bcb0" opacity="0.7" filter="url(#blur2)"/><rect x="715.5" y="430.5" width="51" height="49" rx="17.1" fill="#fafbf8" filter="url(#blur1)"/><ellipse cx="853" cy="430" rx="27.5" ry="21.0" fill="#b9bcb0" opacity="0.7" filter="url(#blur2)"/><rect x="823.5" y="403.0" width="55" height="42" rx="14.7" fill="#fafbf8" filter="url(#blur1)"/><ellipse cx="959" cy="405" rx="26.5" ry="19.0" fill="#b9bcb0" opacity="0.7" filter="url(#blur2)"/><rect x="930.5" y="380.0" width="53" height="38" rx="13.3" fill="#fafbf8" filter="url(#blur1)"/><ellipse cx="1051" cy="374" rx="18.5" ry="14.0" fill="#b9bcb0" opacity="0.7" filter="url(#blur2)"/><rect x="1030.5" y="354.0" width="37" height="28" rx="9.8" fill="#fafbf8" filter="url(#blur1)"/><ellipse cx="1141" cy="348" rx="17.0" ry="12.0" fill="#b9bcb0" opacity="0.7" filter="url(#blur2)"/><rect x="1122.0" y="330.0" width="34" height="24" rx="8.4" fill="#fafbf8" filter="url(#blur1)"/><ellipse cx="1228" cy="326" rx="15.5" ry="11.5" fill="#b9bcb0" opacity="0.7" filter="url(#blur2)"/><rect x="1210.5" y="308.5" width="31" height="23" rx="8.0" fill="#fafbf8" filter="url(#blur1)"/><ellipse cx="1302" cy="301" rx="13.5" ry="13.0" fill="#b9bcb0" opacity="0.7" filter="url(#blur2)"/><rect x="1286.5" y="282.0" width="27" height="26" rx="9.1" fill="#fafbf8" filter="url(#blur1)"/><ellipse cx="1378" cy="278" rx="13.0" ry="13.5" fill="#b9bcb0" opacity="0.7" filter="url(#blur2)"/><rect x="1363.0" y="258.5" width="26" height="27" rx="9.1" fill="#fafbf8" filter="url(#blur1)"/><ellipse cx="1456" cy="270" rx="11" ry="27" fill="#8a8866" opacity="0.95" filter="url(#blur2)" transform="rotate(12 1456 270)"/><rect x="1454.0" y="234.0" width="28" height="36" rx="9.8" fill="#fafbf8" filter="url(#blur1)"/><ellipse cx="1516" cy="253" rx="11" ry="27" fill="#8a8866" opacity="0.95" filter="url(#blur2)" transform="rotate(12 1516 253)"/><rect x="1507.0" y="223.0" width="42" height="24" rx="8.4" fill="#fafbf8" filter="url(#blur1)"/><ellipse cx="1576" cy="234" rx="11" ry="27" fill="#8a8866" opacity="0.95" filter="url(#blur2)" transform="rotate(12 1576 234)"/><rect x="1562.0" y="203.0" width="52" height="26" rx="9.1" fill="#fafbf8" filter="url(#blur1)"/><ellipse cx="1646" cy="212" rx="11" ry="27" fill="#8a8866" opacity="0.95" filter="url(#blur2)" transform="rotate(12 1646 212)"/><rect x="1634.0" y="181.0" width="48" height="26" rx="9.1" fill="#fafbf8" filter="url(#blur1)"/><ellipse cx="1701" cy="196" rx="11" ry="27" fill="#8a8866" opacity="0.95" filter="url(#blur2)" transform="rotate(12 1701 196)"/><rect x="1690.0" y="164.0" width="46" height="28" rx="9.8" fill="#fafbf8" filter="url(#blur1)"/><polygon points="1585,276 1816,222 1777,303 1697,342" fill="#8c8d86" opacity="0.85"/><polygon points="1610,280 1790,238 1765,292 1700,326" fill="#2c2d2b"/><ellipse cx="1672" cy="290" rx="40" ry="20" fill="#151515" transform="rotate(-8 1672 290)"/><line x1="1700" y1="330" x2="1760" y2="245" stroke="#a8a9a2" stroke-width="6"/><polyline points="1220,512 1268,571" fill="none" stroke="#cfae93" stroke-width="5"/><polyline points="1220,512 1268,571" fill="none" stroke="#e8d2bf" stroke-width="1.5"/><line x1="1134" y1="437" x2="1205" y2="502" stroke="#2c2c2e" stroke-width="9"/><line x1="1084" y1="388" x2="1110" y2="415" stroke="#a9aaa2" stroke-width="13"/><line x1="1084" y1="388" x2="1110" y2="415" stroke="#5b5c56" stroke-width="3"/><line x1="1110" y1="415" x2="1134" y2="437" stroke="#c89a2c" stroke-width="12"/><line x1="1060" y1="369" x2="1084" y2="388" stroke="#111" stroke-width="15" stroke-linecap="round"/><g transform="rotate(35 1220.0 512.0)"><rect x="1205" y="503" width="30" height="18" fill="#e6ecf2"/><rect x="1208" y="506" width="24" height="12" fill="none" stroke="#8fb4dc" stroke-width="1.3"/></g><polyline points="1290,470 1374,571" fill="none" stroke="#cfae93" stroke-width="5"/><polyline points="1290,470 1374,571" fill="none" stroke="#e8d2bf" stroke-width="1.5"/><line x1="1228" y1="409" x2="1262" y2="445" stroke="#2c2c2e" stroke-width="9"/><line x1="1172" y1="360" x2="1207" y2="389" stroke="#a9aaa2" stroke-width="13"/><line x1="1172" y1="360" x2="1207" y2="389" stroke="#5b5c56" stroke-width="3"/><line x1="1207" y1="389" x2="1228" y2="409" stroke="#c89a2c" stroke-width="12"/><line x1="1150" y1="340" x2="1172" y2="360" stroke="#111" stroke-width="15" stroke-linecap="round"/><g transform="rotate(35 1280.0 460.0)"><rect x="1265" y="450" width="30" height="20" fill="#e6ecf2"/><rect x="1268" y="453" width="24" height="14" fill="none" stroke="#8fb4dc" stroke-width="1.3"/></g><polyline points="1368,432 1469,571" fill="none" stroke="#cfae93" stroke-width="5"/><polyline points="1368,432 1469,571" fill="none" stroke="#e8d2bf" stroke-width="1.5"/><line x1="1317" y1="384" x2="1362" y2="414" stroke="#2c2c2e" stroke-width="9"/><line x1="1258" y1="335" x2="1290" y2="364" stroke="#a9aaa2" stroke-width="13"/><line x1="1258" y1="335" x2="1290" y2="364" stroke="#5b5c56" stroke-width="3"/><line x1="1290" y1="364" x2="1317" y2="384" stroke="#c89a2c" stroke-width="12"/><line x1="1236" y1="316" x2="1258" y2="335" stroke="#3a3a20" stroke-width="15" stroke-linecap="round"/><g transform="rotate(35 1362.0 420.0)"><rect x="1345" y="410" width="34" height="20" fill="#e6ecf2"/><rect x="1348" y="413" width="28" height="14" fill="none" stroke="#8fb4dc" stroke-width="1.3"/></g><polyline points="1438,398 1500,500 1526,571" fill="none" stroke="#cfae93" stroke-width="5"/><polyline points="1438,398 1500,500 1526,571" fill="none" stroke="#e8d2bf" stroke-width="1.5"/><line x1="1400" y1="360" x2="1432" y2="380" stroke="#2c2c2e" stroke-width="9"/><line x1="1342" y1="312" x2="1376" y2="338" stroke="#a9aaa2" stroke-width="13"/><line x1="1342" y1="312" x2="1376" y2="338" stroke="#5b5c56" stroke-width="3"/><line x1="1376" y1="338" x2="1400" y2="360" stroke="#c89a2c" stroke-width="12"/><line x1="1318" y1="293" x2="1342" y2="312" stroke="#111" stroke-width="15" stroke-linecap="round"/><g transform="rotate(35 1443.0 387.0)"><rect x="1425" y="376" width="36" height="22" fill="#e6ecf2"/><rect x="1428" y="379" width="30" height="16" fill="none" stroke="#8fb4dc" stroke-width="1.3"/></g><polyline points="1520,384 1540,470 1549,571" fill="none" stroke="#cfae93" stroke-width="5"/><polyline points="1520,384 1540,470 1549,571" fill="none" stroke="#e8d2bf" stroke-width="1.5"/><line x1="1476" y1="334" x2="1500" y2="352" stroke="#2c2c2e" stroke-width="9"/><line x1="1418" y1="289" x2="1450" y2="314" stroke="#a9aaa2" stroke-width="13"/><line x1="1418" y1="289" x2="1450" y2="314" stroke="#5b5c56" stroke-width="3"/><line x1="1450" y1="314" x2="1476" y2="334" stroke="#c89a2c" stroke-width="12"/><line x1="1393" y1="271" x2="1418" y2="289" stroke="#111" stroke-width="15" stroke-linecap="round"/><g transform="rotate(35 1513.0 369.0)"><rect x="1500" y="356" width="26" height="26" fill="#e6ecf2"/><rect x="1503" y="359" width="20" height="20" fill="none" stroke="#8fb4dc" stroke-width="1.3"/></g><path d="M312,382 C 330,400 368,398 372,372 C 376,345 335,312 302,303 C 335,300 405,335 432,377" fill="none" stroke="#8d908b" stroke-width="8.5"/><path d="M312,382 C 330,400 368,398 372,372 C 376,345 335,312 302,303 C 335,300 405,335 432,377" fill="none" stroke="#d6d9d3" stroke-width="6"/><path d="M372,374 C 395,330 420,288 438,295 C 455,302 460,340 463,372" fill="none" stroke="#8d908b" stroke-width="8.5"/><path d="M372,374 C 395,330 420,288 438,295 C 455,302 460,340 463,372" fill="none" stroke="#d6d9d3" stroke-width="6"/><path d="M452,372 C 468,322 492,290 508,295 C 528,303 545,330 552,348" fill="none" stroke="#8d908b" stroke-width="8.5"/><path d="M452,372 C 468,322 492,290 508,295 C 528,303 545,330 552,348" fill="none" stroke="#d6d9d3" stroke-width="6"/><path d="M478,372 C 490,342 512,320 540,318 C 570,316 592,332 602,347" fill="none" stroke="#8d908b" stroke-width="8.5"/><path d="M478,372 C 490,342 512,320 540,318 C 570,316 592,332 602,347" fill="none" stroke="#d6d9d3" stroke-width="6"/><path d="M540,355 C 548,305 578,280 618,282 C 652,286 680,308 700,330" fill="none" stroke="#8d908b" stroke-width="8.5"/><path d="M540,355 C 548,305 578,280 618,282 C 652,286 680,308 700,330" fill="none" stroke="#d6d9d3" stroke-width="6"/><path d="M583,333 C 588,285 615,265 650,268 C 692,272 728,318 745,342" fill="none" stroke="#8d908b" stroke-width="8.5"/><path d="M583,333 C 588,285 615,265 650,268 C 692,272 728,318 745,342" fill="none" stroke="#d6d9d3" stroke-width="6"/><path d="M612,350 C 625,300 660,285 700,290 C 740,296 760,320 770,332" fill="none" stroke="#8d908b" stroke-width="8.5"/><path d="M612,350 C 625,300 660,285 700,290 C 740,296 760,320 770,332" fill="none" stroke="#d6d9d3" stroke-width="6"/><path d="M680,330 C 700,290 740,272 780,280 C 820,288 845,312 855,322" fill="none" stroke="#8d908b" stroke-width="8.5"/><path d="M680,330 C 700,290 740,272 780,280 C 820,288 845,312 855,322" fill="none" stroke="#d6d9d3" stroke-width="6"/><path d="M720,318 C 760,275 800,262 840,270 C 880,278 905,300 915,310" fill="none" stroke="#8d908b" stroke-width="8.5"/><path d="M720,318 C 760,275 800,262 840,270 C 880,278 905,300 915,310" fill="none" stroke="#d6d9d3" stroke-width="6"/><path d="M790,305 C 820,270 860,255 900,262 C 940,270 965,290 975,298" fill="none" stroke="#8d908b" stroke-width="8.5"/><path d="M790,305 C 820,270 860,255 900,262 C 940,270 965,290 975,298" fill="none" stroke="#d6d9d3" stroke-width="6"/><path d="M840,300 C 880,255 930,245 970,252 C 1010,260 1030,275 1040,285" fill="none" stroke="#8d908b" stroke-width="8.5"/><path d="M840,300 C 880,255 930,245 970,252 C 1010,260 1030,275 1040,285" fill="none" stroke="#d6d9d3" stroke-width="6"/><path d="M900,290 C 940,250 990,238 1030,244 C 1070,252 1090,262 1100,270" fill="none" stroke="#8d908b" stroke-width="8.5"/><path d="M900,290 C 940,250 990,238 1030,244 C 1070,252 1090,262 1100,270" fill="none" stroke="#d6d9d3" stroke-width="6"/><path d="M960,282 C 1000,250 1050,232 1090,236 C 1110,240 1118,246 1125,250" fill="none" stroke="#8d908b" stroke-width="8.5"/><path d="M960,282 C 1000,250 1050,232 1090,236 C 1110,240 1118,246 1125,250" fill="none" stroke="#d6d9d3" stroke-width="6"/><path d="M1010,268 C 1050,245 1090,232 1125,230" fill="none" stroke="#8d908b" stroke-width="8.5"/><path d="M1010,268 C 1050,245 1090,232 1125,230" fill="none" stroke="#d6d9d3" stroke-width="6"/><path d="M1118,215 C 1200,160 1300,150 1360,178" fill="none" stroke="#8d908b" stroke-width="8.5"/><path d="M1118,215 C 1200,160 1300,150 1360,178" fill="none" stroke="#d6d9d3" stroke-width="6"/><path d="M1125,198 C 1220,140 1320,130 1395,162" fill="none" stroke="#8d908b" stroke-width="8.5"/><path d="M1125,198 C 1220,140 1320,130 1395,162" fill="none" stroke="#d6d9d3" stroke-width="6"/><path d="M1150,183 C 1250,120 1380,110 1460,142" fill="none" stroke="#8d908b" stroke-width="8.5"/><path d="M1150,183 C 1250,120 1380,110 1460,142" fill="none" stroke="#d6d9d3" stroke-width="6"/><path d="M1250,172 C 1330,120 1430,100 1520,122" fill="none" stroke="#8d908b" stroke-width="8.5"/><path d="M1250,172 C 1330,120 1430,100 1520,122" fill="none" stroke="#d6d9d3" stroke-width="6"/><path d="M1300,142 C 1380,100 1480,95 1560,112" fill="none" stroke="#8d908b" stroke-width="8.5"/><path d="M1300,142 C 1380,100 1480,95 1560,112" fill="none" stroke="#d6d9d3" stroke-width="6"/><path d="M1350,128 C 1420,95 1520,92 1600,102" fill="none" stroke="#8d908b" stroke-width="8.5"/><path d="M1350,128 C 1420,95 1520,92 1600,102" fill="none" stroke="#d6d9d3" stroke-width="6"/><path d="M1140,218 C 1200,192 1260,152 1330,132" fill="none" stroke="#8d908b" stroke-width="8.5"/><path d="M1140,218 C 1200,192 1260,152 1330,132" fill="none" stroke="#d6d9d3" stroke-width="6"/><path d="M1200,205 C 1280,172 1350,132 1420,112" fill="none" stroke="#8d908b" stroke-width="8.5"/><path d="M1200,205 C 1280,172 1350,132 1420,112" fill="none" stroke="#d6d9d3" stroke-width="6"/><path d="M1280,192 C 1350,162 1420,122 1480,102" fill="none" stroke="#8d908b" stroke-width="8.5"/><path d="M1280,192 C 1350,162 1420,122 1480,102" fill="none" stroke="#d6d9d3" stroke-width="6"/><path d="M1340,175 C 1400,145 1460,115 1540,95" fill="none" stroke="#8d908b" stroke-width="8.5"/><path d="M1340,175 C 1400,145 1460,115 1540,95" fill="none" stroke="#d6d9d3" stroke-width="6"/><path d="M1400,158 C 1450,130 1520,100 1600,93" fill="none" stroke="#8d908b" stroke-width="8.5"/><path d="M1400,158 C 1450,130 1520,100 1600,93" fill="none" stroke="#d6d9d3" stroke-width="6"/><path d="M1120,235 C 1180,200 1230,190 1290,185" fill="none" stroke="#8d908b" stroke-width="8.5"/><path d="M1120,235 C 1180,200 1230,190 1290,185" fill="none" stroke="#d6d9d3" stroke-width="6"/><path d="M1140,240 C 1200,215 1260,200 1330,175" fill="none" stroke="#8d908b" stroke-width="8.5"/><path d="M1140,240 C 1200,215 1260,200 1330,175" fill="none" stroke="#d6d9d3" stroke-width="6"/><polygon points="1072,439 1290,373 1290,380 1072,446" fill="#1f9a2c"/><polygon points="1135,225 1212,209 1273,259 1243,385 1159,409 1186,281" fill="#f6f29a" opacity="0.85"/><polygon points="1135,225 1212,209 1273,259 1243,385 1159,409 1186,281" fill="none" stroke="#f06a88" stroke-width="5" stroke-dasharray="16 9"/><text transform="translate(1141,468) rotate(-18)" font-size="38" font-weight="bold" fill="#f26a86">Defect site</text><text transform="translate(454,508) rotate(-12)" font-size="38" fill="#000">−7</text><text transform="translate(593,471) rotate(-12)" font-size="38" fill="#000">−6</text><text transform="translate(720,434) rotate(-12)" font-size="38" fill="#000">−5</text><text transform="translate(832,401) rotate(-12)" font-size="38" fill="#000">−4</text><text transform="translate(939,373) rotate(-12)" font-size="38" fill="#000">−3</text><text transform="translate(1035,345) rotate(-12)" font-size="38" fill="#000">−2</text><text transform="translate(1129,322) rotate(-12)" font-size="38" fill="#000">−1</text><text transform="translate(1219,299) rotate(-12)" font-size="38" fill="#000">0</text><text transform="translate(1307,276) rotate(-12)" font-size="38" fill="#000">1</text><text transform="translate(1384,256) rotate(-12)" font-size="38" fill="#000">2</text><text transform="translate(1452,237) rotate(-12)" font-size="38" fill="#000">3</text><text transform="translate(1519,217) rotate(-12)" font-size="38" fill="#000">4</text><text transform="translate(1583,199) rotate(-12)" font-size="38" fill="#000">5</text><text transform="translate(1644,183) rotate(-12)" font-size="38" fill="#000">6</text><text transform="translate(1704,167) rotate(-12)" font-size="38" fill="#000">7</text><text transform="translate(362,540) rotate(-12)" font-size="38" fill="#000">n =</text><line x1="259" y1="566" x2="252" y2="510" stroke="#1010e0" stroke-width="4"/><polygon points="244,513 251,494 260,511" fill="#1010e0"/><line x1="258" y1="566" x2="243" y2="530" stroke="#12a050" stroke-width="4"/><polygon points="236,534 239,516 251,529" fill="#12a050"/><line x1="259" y1="566" x2="304" y2="549" stroke="#f01010" stroke-width="4"/><polygon points="300,541 320,543 305,556" fill="#f01010"/><text x="268" y="508" font-size="34" font-style="italic">z</text><text x="220" y="560" font-size="34" font-style="italic">y</text><text x="319" y="560" font-size="34" font-style="italic">x</text></g><rect x="203.5" y="92" width="914" height="157" fill="#fff" stroke="#000" stroke-width="2.6"/><line x1="236.5" y1="158.5" x2="304" y2="196.5" stroke="#000" stroke-width="7"/><line x1="304" y1="196.5" x2="383" y2="156.5" stroke="#000" stroke-width="7" stroke-dasharray="5 12" stroke-linecap="round" stroke-dashoffset="-8"/><line x1="383" y1="156.5" x2="412" y2="172" stroke="#000" stroke-width="7"/><circle cx="428.7" cy="181" r="4.2" fill="#000"/><circle cx="442.4" cy="181" r="4.2" fill="#000"/><circle cx="456" cy="181" r="4.2" fill="#000"/><line x1="478" y1="184" x2="506.8" y2="195.5" stroke="#000" stroke-width="7"/><line x1="506.8" y1="195.5" x2="586.3" y2="156.5" stroke="#000" stroke-width="7" stroke-dasharray="5 12" stroke-linecap="round" stroke-dashoffset="-8"/><line x1="586.3" y1="156.5" x2="661" y2="176.7" stroke="#000" stroke-width="7"/><line x1="661" y1="176.7" x2="738.3" y2="194.5" stroke="#000" stroke-width="7"/><line x1="738.3" y1="194.5" x2="816.4" y2="156.8" stroke="#000" stroke-width="7" stroke-dasharray="5 12" stroke-linecap="round" stroke-dashoffset="-8"/><line x1="816.4" y1="156.8" x2="845" y2="172" stroke="#000" stroke-width="7"/><circle cx="857.5" cy="183" r="4.2" fill="#000"/><circle cx="871.5" cy="183" r="4.2" fill="#000"/><circle cx="885.5" cy="183" r="4.2" fill="#000"/><line x1="905" y1="187" x2="931.6" y2="198.6" stroke="#000" stroke-width="7"/><line x1="931.6" y1="198.6" x2="1006.6" y2="159" stroke="#000" stroke-width="7" stroke-dasharray="5 12" stroke-linecap="round" stroke-dashoffset="-8"/><line x1="1006.6" y1="159" x2="1081" y2="197.3" stroke="#000" stroke-width="7"/><circle cx="236.5" cy="158.5" r="19.3" fill="#fdb913"/><circle cx="383" cy="156.5" r="19.3" fill="#fdb913"/><circle cx="586.3" cy="156.5" r="19.3" fill="#fdb913"/><circle cx="816.4" cy="156.8" r="19.3" fill="#fdb913"/><circle cx="1006.6" cy="159" r="19.3" fill="#fdb913"/><circle cx="304" cy="196.5" r="19.3" fill="#7a9a44"/><circle cx="506.8" cy="195.5" r="19.3" fill="#7a9a44"/><circle cx="738.3" cy="194.5" r="19.3" fill="#7a9a44"/><circle cx="931.6" cy="198.6" r="19.3" fill="#7a9a44"/><circle cx="1081" cy="197.3" r="19.3" fill="#7a9a44"/><circle cx="661" cy="176.7" r="18.5" fill="#fff" stroke="#000" stroke-width="3"/><rect x="626" y="137" width="71.5" height="81.5" fill="none" stroke="#ef6c8a" stroke-width="3.2" stroke-dasharray="11 6.5"/><text x="697" y="129" font-size="38" fill="#ef6a86">Defect site</text><text x="291" y="173.5" font-size="40" font-weight="bold" fill="#7a9a44">A</text><text x="371" y="131.5" font-size="40" font-weight="bold" fill="#fdb913">B</text><text x="242" y="208" font-size="42" font-style="italic">w</text><text x="343" y="210" font-size="42" font-style="italic">v</text><rect x="261.0" y="736.0" width="8.1" height="5" fill="#200000"/><rect x="261.0" y="755.7" width="8.1" height="5" fill="#200000"/><rect x="290.1" y="736.0" width="8.1" height="5" fill="#1b0000"/><rect x="290.1" y="755.7" width="8.1" height="5" fill="#1b0000"/><rect x="319.2" y="736.0" width="8.1" height="5" fill="#330000"/><rect x="319.2" y="755.7" width="8.1" height="5" fill="#330000"/><rect x="348.3" y="736.0" width="8.1" height="5" fill="#3b0000"/><rect x="348.3" y="755.7" width="8.1" height="5" fill="#3b0000"/><rect x="377.4" y="736.0" width="8.1" height="5" fill="#880000"/><rect x="377.4" y="755.7" width="8.1" height="5" fill="#880000"/><rect x="406.5" y="736.0" width="8.1" height="5" fill="#a30000"/><rect x="406.5" y="755.7" width="8.1" height="5" fill="#a30000"/><rect x="435.6" y="736.0" width="8.1" height="5" fill="#ff2c00"/><rect x="435.6" y="755.7" width="8.1" height="5" fill="#ff2c00"/><rect x="464.6" y="736.0" width="8.1" height="5" fill="#ff2c00"/><rect x="464.6" y="755.7" width="8.1" height="5" fill="#ff2c00"/><rect x="493.7" y="736.0" width="8.1" height="5" fill="#a30000"/><rect x="493.7" y="755.7" width="8.1" height="5" fill="#a30000"/><rect x="522.8" y="736.0" width="8.1" height="5" fill="#880000"/><rect x="522.8" y="755.7" width="8.1" height="5" fill="#880000"/><rect x="551.9" y="736.0" width="8.1" height="5" fill="#3b0000"/><rect x="551.9" y="755.7" width="8.1" height="5" fill="#3b0000"/><rect x="581.0" y="736.0" width="8.1" height="5" fill="#330000"/><rect x="581.0" y="755.7" width="8.1" height="5" fill="#330000"/><rect x="610.1" y="736.0" width="8.1" height="5" fill="#1b0000"/><rect x="610.1" y="755.7" width="8.1" height="5" fill="#1b0000"/><rect x="639.2" y="736.0" width="8.1" height="5" fill="#200000"/><rect x="639.2" y="755.7" width="8.1" height="5" fill="#200000"/><rect x="236.5" y="736" width="4" height="5" fill="#130000"/><rect x="236.5" y="755.7" width="4" height="5" fill="#130000"/><rect x="667.8" y="736" width="4" height="5" fill="#130000"/><rect x="667.8" y="755.7" width="4" height="5" fill="#130000"/><rect x="240.0" y="730.0" width="21" height="36.7" rx="1.5" fill="url(#g1)"/><rect x="269.1" y="730.0" width="21" height="36.7" rx="1.5" fill="url(#g2)"/><rect x="298.2" y="730.0" width="21" height="36.7" rx="1.5" fill="url(#g3)"/><rect x="327.3" y="730.0" width="21" height="36.7" rx="1.5" fill="url(#g4)"/><rect x="356.4" y="730.0" width="21" height="36.7" rx="1.5" fill="url(#g5)"/><rect x="385.5" y="730.0" width="21" height="36.7" rx="1.5" fill="url(#g6)"/><rect x="414.6" y="730.0" width="21" height="36.7" rx="1.5" fill="url(#g7)"/><rect x="443.6" y="730.0" width="21" height="36.7" rx="1.5" fill="url(#g8)" stroke="#9a9a80" stroke-width="1"/><rect x="472.7" y="730.0" width="21" height="36.7" rx="1.5" fill="url(#g9)"/><rect x="501.8" y="730.0" width="21" height="36.7" rx="1.5" fill="url(#g10)"/><rect x="530.9" y="730.0" width="21" height="36.7" rx="1.5" fill="url(#g11)"/><rect x="560.0" y="730.0" width="21" height="36.7" rx="1.5" fill="url(#g12)"/><rect x="589.1" y="730.0" width="21" height="36.7" rx="1.5" fill="url(#g13)"/><rect x="618.2" y="730.0" width="21" height="36.7" rx="1.5" fill="url(#g14)"/><rect x="647.3" y="730.0" width="21" height="36.7" rx="1.5" fill="url(#g15)"/><rect x="203.5" y="723" width="33" height="50.700000000000045" fill="#000000"/><rect x="671.8" y="723" width="42" height="50.700000000000045" fill="#000000"/><rect x="826.5" y="735.3" width="8.1" height="5" fill="#ff4700"/><rect x="826.5" y="754.4" width="8.1" height="5" fill="#ff4700"/><rect x="855.6" y="735.3" width="8.1" height="5" fill="#fffa00"/><rect x="855.6" y="754.4" width="8.1" height="5" fill="#fffa00"/><rect x="884.7" y="735.3" width="8.1" height="5" fill="#ffc400"/><rect x="884.7" y="754.4" width="8.1" height="5" fill="#ffc400"/><rect x="913.9" y="735.3" width="8.1" height="5" fill="#ff5700"/><rect x="913.9" y="754.4" width="8.1" height="5" fill="#ff5700"/><rect x="943.0" y="735.3" width="8.1" height="5" fill="#ff4400"/><rect x="943.0" y="754.4" width="8.1" height="5" fill="#ff4400"/><rect x="972.1" y="735.3" width="8.1" height="5" fill="#ff8b00"/><rect x="972.1" y="754.4" width="8.1" height="5" fill="#ff8b00"/><rect x="1001.2" y="735.3" width="8.1" height="5" fill="#ffda00"/><rect x="1001.2" y="754.4" width="8.1" height="5" fill="#ffda00"/><rect x="1030.3" y="735.3" width="8.1" height="5" fill="#ffda00"/><rect x="1030.3" y="754.4" width="8.1" height="5" fill="#ffda00"/><rect x="1059.5" y="735.3" width="8.1" height="5" fill="#ff8b00"/><rect x="1059.5" y="754.4" width="8.1" height="5" fill="#ff8b00"/><rect x="1088.6" y="735.3" width="8.1" height="5" fill="#ff4400"/><rect x="1088.6" y="754.4" width="8.1" height="5" fill="#ff4400"/><rect x="1117.7" y="735.3" width="8.1" height="5" fill="#ff5700"/><rect x="1117.7" y="754.4" width="8.1" height="5" fill="#ff5700"/><rect x="1146.8" y="735.3" width="8.1" height="5" fill="#ffb400"/><rect x="1146.8" y="754.4" width="8.1" height="5" fill="#ffb400"/><rect x="1176.0" y="735.3" width="8.1" height="5" fill="#ffe500"/><rect x="1176.0" y="754.4" width="8.1" height="5" fill="#ffe500"/><rect x="1205.1" y="735.3" width="8.1" height="5" fill="#ff4100"/><rect x="1205.1" y="754.4" width="8.1" height="5" fill="#ff4100"/><rect x="802" y="735.3" width="4" height="5" fill="#8e0000"/><rect x="802" y="754.4" width="4" height="5" fill="#8e0000"/><rect x="1233.7" y="735.3" width="4" height="5" fill="#8e0000"/><rect x="1233.7" y="754.4" width="4" height="5" fill="#8e0000"/><rect x="805.5" y="729.3" width="21" height="36.1" rx="1.5" fill="url(#g16)"/><rect x="834.6" y="729.3" width="21" height="36.1" rx="1.5" fill="url(#g17)" stroke="#9a9a80" stroke-width="1"/><rect x="863.7" y="729.3" width="21" height="36.1" rx="1.5" fill="url(#g18)" stroke="#9a9a80" stroke-width="1"/><rect x="892.9" y="729.3" width="21" height="36.1" rx="1.5" fill="url(#g19)" stroke="#9a9a80" stroke-width="1"/><rect x="922.0" y="729.3" width="21" height="36.1" rx="1.5" fill="url(#g20)"/><rect x="951.1" y="729.3" width="21" height="36.1" rx="1.5" fill="url(#g21)" stroke="#9a9a80" stroke-width="1"/><rect x="980.2" y="729.3" width="21" height="36.1" rx="1.5" fill="url(#g22)" stroke="#9a9a80" stroke-width="1"/><rect x="1009.4" y="729.3" width="21" height="36.1" rx="1.5" fill="url(#g23)" stroke="#9a9a80" stroke-width="1"/><rect x="1038.5" y="729.3" width="21" height="36.1" rx="1.5" fill="url(#g24)" stroke="#9a9a80" stroke-width="1"/><rect x="1067.6" y="729.3" width="21" height="36.1" rx="1.5" fill="url(#g25)" stroke="#9a9a80" stroke-width="1"/><rect x="1096.7" y="729.3" width="21" height="36.1" rx="1.5" fill="url(#g26)"/><rect x="1125.8" y="729.3" width="21" height="36.1" rx="1.5" fill="url(#g27)" stroke="#9a9a80" stroke-width="1"/><rect x="1155.0" y="729.3" width="21" height="36.1" rx="1.5" fill="url(#g28)" stroke="#9a9a80" stroke-width="1"/><rect x="1184.1" y="729.3" width="21" height="36.1" rx="1.5" fill="url(#g29)" stroke="#9a9a80" stroke-width="1"/><rect x="1213.2" y="729.3" width="21" height="36.1" rx="1.5" fill="url(#g30)"/><rect x="765" y="722.3" width="37" height="50.10000000000002" fill="#280000"/><rect x="1237.7" y="722.3" width="38" height="50.10000000000002" fill="#280000"/><rect x="1387.7" y="735.0" width="8.1" height="5" fill="#0a0000"/><rect x="1387.7" y="754.0" width="8.1" height="5" fill="#0a0000"/><rect x="1416.8" y="735.0" width="8.1" height="5" fill="#0a0000"/><rect x="1416.8" y="754.0" width="8.1" height="5" fill="#0a0000"/><rect x="1445.9" y="735.0" width="8.1" height="5" fill="#130000"/><rect x="1445.9" y="754.0" width="8.1" height="5" fill="#130000"/><rect x="1475.0" y="735.0" width="8.1" height="5" fill="#1d0000"/><rect x="1475.0" y="754.0" width="8.1" height="5" fill="#1d0000"/><rect x="1504.2" y="735.0" width="8.1" height="5" fill="#410000"/><rect x="1504.2" y="754.0" width="8.1" height="5" fill="#410000"/><rect x="1533.3" y="735.0" width="8.1" height="5" fill="#9d0000"/><rect x="1533.3" y="754.0" width="8.1" height="5" fill="#9d0000"/><rect x="1562.4" y="735.0" width="8.1" height="5" fill="#ff7000"/><rect x="1562.4" y="754.0" width="8.1" height="5" fill="#ff7000"/><rect x="1591.5" y="735.0" width="8.1" height="5" fill="#ff7000"/><rect x="1591.5" y="754.0" width="8.1" height="5" fill="#ff7000"/><rect x="1620.6" y="735.0" width="8.1" height="5" fill="#9d0000"/><rect x="1620.6" y="754.0" width="8.1" height="5" fill="#9d0000"/><rect x="1649.7" y="735.0" width="8.1" height="5" fill="#410000"/><rect x="1649.7" y="754.0" width="8.1" height="5" fill="#410000"/><rect x="1678.8" y="735.0" width="8.1" height="5" fill="#1d0000"/><rect x="1678.8" y="754.0" width="8.1" height="5" fill="#1d0000"/><rect x="1708.0" y="735.0" width="8.1" height="5" fill="#130000"/><rect x="1708.0" y="754.0" width="8.1" height="5" fill="#130000"/><rect x="1737.1" y="735.0" width="8.1" height="5" fill="#0a0000"/><rect x="1737.1" y="754.0" width="8.1" height="5" fill="#0a0000"/><rect x="1766.2" y="735.0" width="8.1" height="5" fill="#0a0000"/><rect x="1766.2" y="754.0" width="8.1" height="5" fill="#0a0000"/><rect x="1363.2" y="735" width="4" height="5" fill="#090000"/><rect x="1363.2" y="754" width="4" height="5" fill="#090000"/><rect x="1794.8" y="735" width="4" height="5" fill="#090000"/><rect x="1794.8" y="754" width="4" height="5" fill="#090000"/><rect x="1366.7" y="729.0" width="21" height="36.0" rx="1.5" fill="url(#g31)"/><rect x="1395.8" y="729.0" width="21" height="36.0" rx="1.5" fill="url(#g32)"/><rect x="1424.9" y="729.0" width="21" height="36.0" rx="1.5" fill="url(#g33)"/><rect x="1454.0" y="729.0" width="21" height="36.0" rx="1.5" fill="url(#g34)"/><rect x="1483.2" y="729.0" width="21" height="36.0" rx="1.5" fill="url(#g35)"/><rect x="1512.3" y="729.0" width="21" height="36.0" rx="1.5" fill="url(#g36)"/><rect x="1541.4" y="729.0" width="21" height="36.0" rx="1.5" fill="url(#g37)"/><rect x="1570.5" y="729.0" width="21" height="36.0" rx="1.5" fill="url(#g38)" stroke="#9a9a80" stroke-width="1"/><rect x="1599.6" y="729.0" width="21" height="36.0" rx="1.5" fill="url(#g39)"/><rect x="1628.7" y="729.0" width="21" height="36.0" rx="1.5" fill="url(#g40)"/><rect x="1657.8" y="729.0" width="21" height="36.0" rx="1.5" fill="url(#g41)"/><rect x="1687.0" y="729.0" width="21" height="36.0" rx="1.5" fill="url(#g42)"/><rect x="1716.1" y="729.0" width="21" height="36.0" rx="1.5" fill="url(#g43)"/><rect x="1745.2" y="729.0" width="21" height="36.0" rx="1.5" fill="url(#g44)"/><rect x="1774.3" y="729.0" width="21" height="36.0" rx="1.5" fill="url(#g45)"/><rect x="1325.2" y="722" width="38" height="50" fill="#000000"/><rect x="1798.8" y="722" width="36" height="50" fill="#000000"/><rect x="267" y="643" width="383" height="61" rx="11" fill="#e3f6cb"/><g transform="translate(293,650)"><path d="M 39,19.5 C 44,13 52,12 58,12.5 C 66,13 69,17 66.5,22.5 C 63,28 56,30.5 50,30.5" fill="none" stroke="#000" stroke-width="2.4" stroke-linecap="round"/><path d="M 51,15 C 49,24 46,33 42.5,41" fill="none" stroke="#000" stroke-width="3.2" stroke-linecap="round"/><path d="M 68,19.5 C 70,15 74,13.5 79,13 C 86,12.5 93,12 97,11" fill="none" stroke="#000" stroke-width="2.4" stroke-linecap="round"/><path d="M 85,14 C 82,23 78,32 75,38.5" fill="none" stroke="#000" stroke-width="3.2" stroke-linecap="round"/><path d="M 71,38.8 L 82.5,38.2" fill="none" stroke="#000" stroke-width="2.2" stroke-linecap="round"/></g><text x="399.0" y="688.5" font-size="39.5" fill="#000" text-anchor="start" >symmetric</text><rect x="829" y="644" width="381" height="59" rx="11" fill="#aff3e1"/><g transform="translate(794,650)"><path d="M 39,19.5 C 44,13 52,12 58,12.5 C 66,13 69,17 66.5,22.5 C 63,28 56,30.5 50,30.5" fill="none" stroke="#000" stroke-width="2.4" stroke-linecap="round"/><path d="M 51,15 C 49,24 46,33 42.5,41" fill="none" stroke="#000" stroke-width="3.2" stroke-linecap="round"/><path d="M 68,19.5 C 70,15 74,13.5 79,13 C 86,12.5 93,12 97,11" fill="none" stroke="#000" stroke-width="2.4" stroke-linecap="round"/><path d="M 85,14 C 82,23 78,32 75,38.5" fill="none" stroke="#000" stroke-width="3.2" stroke-linecap="round"/><path d="M 71,38.8 L 82.5,38.2" fill="none" stroke="#000" stroke-width="2.2" stroke-linecap="round"/></g><text x="900.0" y="688.5" font-size="39.5" fill="#000" text-anchor="start" >symmetry broken</text><rect x="1389" y="644" width="381" height="59" rx="11" fill="#5cd8bd"/><g transform="translate(1430,650)"><path d="M 7.5,37.5 C 9,41 12,41.5 15,39 C 20,34 27,22 31.5,11" fill="none" stroke="#000" stroke-width="2.3" stroke-linecap="round"/><path d="M 31.5,11 C 32,20 33.5,31 35,39" fill="none" stroke="#000" stroke-width="3.3" stroke-linecap="round"/><path d="M 19,31.3 L 29.5,31.3" fill="none" stroke="#000" stroke-width="1.8"/><path d="M 32,39.2 L 37.5,38.5" fill="none" stroke="#000" stroke-width="2.2" stroke-linecap="round"/><path d="M 39,19.5 C 44,13 52,12 58,12.5 C 66,13 69,17 66.5,22.5 C 63,28 56,30.5 50,30.5" fill="none" stroke="#000" stroke-width="2.4" stroke-linecap="round"/><path d="M 51,15 C 49,24 46,33 42.5,41" fill="none" stroke="#000" stroke-width="3.2" stroke-linecap="round"/><path d="M 68,19.5 C 70,15 74,13.5 79,13 C 86,12.5 93,12 97,11" fill="none" stroke="#000" stroke-width="2.4" stroke-linecap="round"/><path d="M 85,14 C 82,23 78,32 75,38.5" fill="none" stroke="#000" stroke-width="3.2" stroke-linecap="round"/><path d="M 71,38.8 L 82.5,38.2" fill="none" stroke="#000" stroke-width="2.2" stroke-linecap="round"/></g><text x="1535.0" y="688.5" font-size="39.5" fill="#000" text-anchor="start" >symmetric</text><text x="95.0" y="118.0" font-size="43" fill="#000" text-anchor="start" letter-spacing="1.5">(a)</text><text x="95.0" y="709.0" font-size="43" fill="#000" text-anchor="start" letter-spacing="1.5">(b)</text><text x="712.0" y="709.0" font-size="43" fill="#000" text-anchor="start" letter-spacing="1.5">(c)</text><text x="1272.0" y="709.0" font-size="43" fill="#000" text-anchor="start" letter-spacing="1.5">(d)</text><text x="96.0" y="1288.0" font-size="43" fill="#000" text-anchor="start" letter-spacing="1.5">(e)</text><text x="716.0" y="1288.0" font-size="43" fill="#000" text-anchor="start" letter-spacing="1.5">(f)</text><text x="1272.0" y="1288.0" font-size="43" fill="#000" text-anchor="start" letter-spacing="1.5">(g)</text><rect x="203.7" y="788.8" width="505.50000000000006" height="435.5" fill="none" stroke="#000" stroke-width="2.6"/><line x1="203.7" y1="808.6" x2="218.7" y2="808.6" stroke="#000" stroke-width="2.4"/><line x1="203.7" y1="907.3" x2="211.7" y2="907.3" stroke="#000" stroke-width="2.4"/><line x1="203.7" y1="1006.0" x2="218.7" y2="1006.0" stroke="#000" stroke-width="2.4"/><line x1="203.7" y1="1105.0" x2="211.7" y2="1105.0" stroke="#000" stroke-width="2.4"/><line x1="203.7" y1="1204.0" x2="218.7" y2="1204.0" stroke="#000" stroke-width="2.4"/><line x1="246.6" y1="1224.3" x2="246.6" y2="1209.3" stroke="#000" stroke-width="2.4"/><line x1="351.6" y1="1224.3" x2="351.6" y2="1215.3" stroke="#000" stroke-width="2.4"/><line x1="456.6" y1="1224.3" x2="456.6" y2="1209.3" stroke="#000" stroke-width="2.4"/><line x1="561.6" y1="1224.3" x2="561.6" y2="1215.3" stroke="#000" stroke-width="2.4"/><line x1="666.6" y1="1224.3" x2="666.6" y2="1209.3" stroke="#000" stroke-width="2.4"/><rect x="765" y="789.7" width="504.79999999999995" height="435.79999999999995" fill="none" stroke="#000" stroke-width="2.6"/><line x1="765" y1="809.8" x2="780" y2="809.8" stroke="#000" stroke-width="2.4"/><line x1="765" y1="909.0" x2="773" y2="909.0" stroke="#000" stroke-width="2.4"/><line x1="765" y1="1007.5" x2="780" y2="1007.5" stroke="#000" stroke-width="2.4"/><line x1="765" y1="1106.5" x2="773" y2="1106.5" stroke="#000" stroke-width="2.4"/><line x1="765" y1="1205.4" x2="780" y2="1205.4" stroke="#000" stroke-width="2.4"/><line x1="807.4" y1="1225.5" x2="807.4" y2="1210.5" stroke="#000" stroke-width="2.4"/><line x1="912.4" y1="1225.5" x2="912.4" y2="1216.5" stroke="#000" stroke-width="2.4"/><line x1="1017.4" y1="1225.5" x2="1017.4" y2="1210.5" stroke="#000" stroke-width="2.4"/><line x1="1122.4" y1="1225.5" x2="1122.4" y2="1216.5" stroke="#000" stroke-width="2.4"/><line x1="1227.4" y1="1225.5" x2="1227.4" y2="1210.5" stroke="#000" stroke-width="2.4"/><rect x="1326" y="790" width="504" height="434" fill="none" stroke="#000" stroke-width="2.6"/><line x1="1326" y1="808.0" x2="1341" y2="808.0" stroke="#000" stroke-width="2.4"/><line x1="1326" y1="907.2" x2="1334" y2="907.2" stroke="#000" stroke-width="2.4"/><line x1="1326" y1="1006.5" x2="1341" y2="1006.5" stroke="#000" stroke-width="2.4"/><line x1="1326" y1="1106.0" x2="1334" y2="1106.0" stroke="#000" stroke-width="2.4"/><line x1="1326" y1="1204.8" x2="1341" y2="1204.8" stroke="#000" stroke-width="2.4"/><line x1="1367.2" y1="1224" x2="1367.2" y2="1209" stroke="#000" stroke-width="2.4"/><line x1="1472.2" y1="1224" x2="1472.2" y2="1215" stroke="#000" stroke-width="2.4"/><line x1="1577.6" y1="1224" x2="1577.6" y2="1209" stroke="#000" stroke-width="2.4"/><line x1="1683.0" y1="1224" x2="1683.0" y2="1215" stroke="#000" stroke-width="2.4"/><line x1="1788.0" y1="1224" x2="1788.0" y2="1209" stroke="#000" stroke-width="2.4"/><text x="187.0" y="826.0" font-size="37" fill="#000" text-anchor="end" >0.2</text><text x="187.0" y="1022.0" font-size="37" fill="#000" text-anchor="end" >0</text><text x="187.0" y="1219.0" font-size="37" fill="#000" text-anchor="end" >−0.2</text><text transform="translate(130,1009) rotate(-90)" font-size="39.5" text-anchor="middle">Im(<tspan font-style="italic">f</tspan>) (kHz)</text><text transform="translate(240,850) scale(1.3,1)" font-size="39" font-family="Liberation Serif" font-style="italic">β</text><text x="273" y="850" font-size="40">= 0</text><text transform="translate(805,850) scale(1.3,1)" font-size="39" font-family="Liberation Serif" font-style="italic">β</text><text x="838" y="850" font-size="40">= 0.06</text><text transform="translate(1370,850) scale(1.3,1)" font-size="39" font-family="Liberation Serif" font-style="italic">β</text><text x="1403" y="850" font-size="40">= 0.12</text><polygon points="260,990.1 273.5,1003.6 260,1017.1 246.5,1003.6" fill="none" stroke="#7f7f7f" stroke-width="5"/><polygon points="266.5,990.1 280.0,1003.6 266.5,1017.1 253.0,1003.6" fill="none" stroke="#7f7f7f" stroke-width="5"/><polygon points="284.6,990.1 298.1,1003.6 284.6,1017.1 271.1,1003.6" fill="none" stroke="#7f7f7f" stroke-width="5"/><polygon points="296,990.1 309.5,1003.6 296,1017.1 282.5,1003.6" fill="none" stroke="#7f7f7f" stroke-width="5"/><polygon points="317.6,990.1 331.1,1003.6 317.6,1017.1 304.1,1003.6" fill="none" stroke="#7f7f7f" stroke-width="5"/><polygon points="329.8,990.1 343.3,1003.6 329.8,1017.1 316.3,1003.6" fill="none" stroke="#7f7f7f" stroke-width="5"/><polygon points="527,979.9 540.5,993.4 527,1006.9 513.5,993.4" fill="none" stroke="#7f7f7f" stroke-width="5"/><polygon points="575.3,990.1 588.8,1003.6 575.3,1017.1 561.8,1003.6" fill="none" stroke="#7f7f7f" stroke-width="5"/><polygon points="582.2,990.1 595.7,1003.6 582.2,1017.1 568.7,1003.6" fill="none" stroke="#7f7f7f" stroke-width="5"/><polygon points="616.2,990.1 629.7,1003.6 616.2,1017.1 602.7,1003.6" fill="none" stroke="#7f7f7f" stroke-width="5"/><polygon points="621.1,990.1 634.6,1003.6 621.1,1017.1 607.6,1003.6" fill="none" stroke="#7f7f7f" stroke-width="5"/><polygon points="647.5,990.1 661.0,1003.6 647.5,1017.1 634.0,1003.6" fill="none" stroke="#7f7f7f" stroke-width="5"/><polygon points="395,988.1 410.5,1003.6 395,1019.1 379.5,1003.6" fill="#f0647f"/><line x1="395" y1="921" x2="395" y2="978" stroke="#f0647f" stroke-width="3"/><polyline points="387,958 395,977 403,958" fill="none" stroke="#f0647f" stroke-width="3"/><text x="414" y="961" font-size="38" fill="#f0647f" font-style="italic">f</text><text x="426" y="967" font-size="28" fill="#f0647f">d</text><rect x="441.3" y="1068.6" width="255" height="114" rx="16" fill="#fff" stroke="#000" stroke-width="2.2"/><polygon points="477.6,1082.6 492.6,1097.6 477.6,1112.6 462.6,1097.6" fill="#f0647f"/><polygon points="477.6,1140.2 490.1,1152.7 477.6,1165.2 465.1,1152.7" fill="none" stroke="#7f7f7f" stroke-width="5"/><text x="502.0" y="1111.5" font-size="31.5" fill="#000" text-anchor="start" >Defect states</text><text x="502.0" y="1164.0" font-size="31.5" fill="#000" text-anchor="start" >Other states</text><polygon points="862.8,991.0 876.3,1004.5 862.8,1018.0 849.3,1004.5" fill="none" stroke="#7f7f7f" stroke-width="5"/><polygon points="873.2,991.0 886.7,1004.5 873.2,1018.0 859.7,1004.5" fill="none" stroke="#7f7f7f" stroke-width="5"/><polygon points="895.7,991.0 909.2,1004.5 895.7,1018.0 882.2,1004.5" fill="none" stroke="#7f7f7f" stroke-width="5"/><polygon points="920,991.0 933.5,1004.5 920,1018.0 906.5,1004.5" fill="none" stroke="#7f7f7f" stroke-width="5"/><polygon points="946,991.0 959.5,1004.5 946,1018.0 932.5,1004.5" fill="none" stroke="#7f7f7f" stroke-width="5"/><polygon points="998.6,963.3 1012.1,976.8 998.6,990.3 985.1,976.8" fill="none" stroke="#7f7f7f" stroke-width="5"/><polygon points="1021.4,963.3 1034.9,976.8 1021.4,990.3 1007.9,976.8" fill="none" stroke="#7f7f7f" stroke-width="5"/><polygon points="1000,1018.7 1013.5,1032.2 1000,1045.7 986.5,1032.2" fill="none" stroke="#7f7f7f" stroke-width="5"/><polygon points="1022.8,1018.7 1036.3,1032.2 1022.8,1045.7 1009.3,1032.2" fill="none" stroke="#7f7f7f" stroke-width="5"/><polygon points="1093.1,887.8 1106.6,901.3 1093.1,914.8 1079.6,901.3" fill="none" stroke="#7f7f7f" stroke-width="5"/><polygon points="1086.2,1067.2 1099.7,1080.7 1086.2,1094.2 1072.7,1080.7" fill="none" stroke="#7f7f7f" stroke-width="5"/><polygon points="1105.3,985.8 1118.8,999.3 1105.3,1012.8 1091.8,999.3" fill="none" stroke="#7f7f7f" stroke-width="5"/><polygon points="1108,996.2 1121.5,1009.7 1108,1023.2 1094.5,1009.7" fill="none" stroke="#7f7f7f" stroke-width="5"/><polygon points="1149.6,991.0 1163.1,1004.5 1149.6,1018.0 1136.1,1004.5" fill="none" stroke="#7f7f7f" stroke-width="5"/><line x1="894.7" y1="921.4" x2="894.7" y2="976.8" stroke="#7f7f7f" stroke-width="3"/><polyline points="886.7,956.8 894.7,975.8 902.7,956.8" fill="none" stroke="#7f7f7f" stroke-width="3"/><text x="914" y="961" font-size="38" fill="#7f7f7f" font-style="italic">f</text><text x="926" y="967" font-size="28" fill="#7f7f7f">b</text><polygon points="1644,792.5 1657.5,806 1644,819.5 1630.5,806" fill="none" stroke="#7f7f7f" stroke-width="5"/><polygon points="1550,832.5 1563.5,846 1550,859.5 1536.5,846" fill="none" stroke="#7f7f7f" stroke-width="5"/><polygon points="1553.2,848.5 1566.7,862 1553.2,875.5 1539.7,862" fill="none" stroke="#7f7f7f" stroke-width="5"/><polygon points="1554,868.5 1567.5,882 1554,895.5 1540.5,882" fill="none" stroke="#7f7f7f" stroke-width="5"/><polygon points="1555.2,1112.5 1568.7,1126 1555.2,1139.5 1541.7,1126" fill="none" stroke="#7f7f7f" stroke-width="5"/><polygon points="1554,1131.3 1567.5,1144.8 1554,1158.3 1540.5,1144.8" fill="none" stroke="#7f7f7f" stroke-width="5"/><polygon points="1550.8,1149.3 1564.3,1162.8 1550.8,1176.3 1537.3,1162.8" fill="none" stroke="#7f7f7f" stroke-width="5"/><polygon points="1632.8,1160.5 1646.3,1174 1632.8,1187.5 1619.3,1174" fill="none" stroke="#7f7f7f" stroke-width="5"/><polygon points="1500,987.7 1515.5,1003.2 1500,1018.7 1484.5,1003.2" fill="#f0647f"/><line x1="1499.2" y1="922" x2="1499.2" y2="976" stroke="#f0647f" stroke-width="3"/><polyline points="1491.2,956 1499.2,975 1507.2,956" fill="none" stroke="#f0647f" stroke-width="3"/><text x="1519" y="961" font-size="38" fill="#f0647f" font-style="italic">f</text><text x="1531" y="967" font-size="28" fill="#f0647f">d</text><rect x="1879.5" y="816" width="26.5" height="380" fill="url(#g46)" stroke="#222" stroke-width="1.5"/><line x1="1879.5" y1="880" x2="1884" y2="880" stroke="#333" stroke-width="1.2"/><line x1="1901.5" y1="880" x2="1906" y2="880" stroke="#333" stroke-width="1.2"/><line x1="1879.5" y1="943" x2="1884" y2="943" stroke="#333" stroke-width="1.2"/><line x1="1901.5" y1="943" x2="1906" y2="943" stroke="#333" stroke-width="1.2"/><line x1="1879.5" y1="1006" x2="1884" y2="1006" stroke="#333" stroke-width="1.2"/><line x1="1901.5" y1="1006" x2="1906" y2="1006" stroke="#333" stroke-width="1.2"/><line x1="1879.5" y1="1070" x2="1884" y2="1070" stroke="#333" stroke-width="1.2"/><line x1="1901.5" y1="1070" x2="1906" y2="1070" stroke="#333" stroke-width="1.2"/><line x1="1879.5" y1="1133" x2="1884" y2="1133" stroke="#333" stroke-width="1.2"/><line x1="1901.5" y1="1133" x2="1906" y2="1133" stroke="#333" stroke-width="1.2"/><text x="1850.0" y="798.0" font-size="38" fill="#000" text-anchor="start" >Max.</text><text x="1892.0" y="1242.0" font-size="38" fill="#000" text-anchor="middle" >0</text><text transform="translate(1939,1002) rotate(90)" font-size="40" text-anchor="middle">Amplitude (arb. units)</text><text x="381" y="1259" font-size="38" fill="#f0647f" font-style="italic">f</text><text x="393" y="1265" font-size="28" fill="#f0647f">d</text><text x="883" y="1259" font-size="38" fill="#000" font-style="italic">f</text><text x="895" y="1265" font-size="28" fill="#000">b</text><text x="1491" y="1259" font-size="38" fill="#f0647f" font-style="italic">f</text><text x="1503" y="1265" font-size="28" fill="#f0647f">d</text><g><rect x="202.6" y="1268.70" width="510.19999999999993" height="18.02" fill="url(#g47)"/><rect x="202.6" y="1286.12" width="510.19999999999993" height="35.44" fill="url(#g48)"/><rect x="202.6" y="1320.96" width="510.19999999999993" height="35.44" fill="url(#g49)"/><rect x="202.6" y="1355.81" width="510.19999999999993" height="35.44" fill="url(#g50)"/><rect x="202.6" y="1390.65" width="510.19999999999993" height="35.44" fill="url(#g51)"/><rect x="202.6" y="1425.49" width="510.19999999999993" height="35.44" fill="url(#g52)"/><rect x="202.6" y="1460.34" width="510.19999999999993" height="35.44" fill="url(#g53)"/><rect x="202.6" y="1495.18" width="510.19999999999993" height="35.44" fill="url(#g54)"/><rect x="202.6" y="1530.02" width="510.19999999999993" height="35.44" fill="url(#g55)"/><rect x="202.6" y="1564.86" width="510.19999999999993" height="35.44" fill="url(#g56)"/><rect x="202.6" y="1599.71" width="510.19999999999993" height="35.44" fill="url(#g57)"/><rect x="202.6" y="1634.55" width="510.19999999999993" height="35.44" fill="url(#g58)"/><rect x="202.6" y="1669.39" width="510.19999999999993" height="35.44" fill="url(#g59)"/><rect x="202.6" y="1704.24" width="510.19999999999993" height="35.44" fill="url(#g60)"/><rect x="202.6" y="1739.08" width="510.19999999999993" height="18.02" fill="url(#g61)"/><line x1="245.6" y1="1756.5" x2="245.6" y2="1743.5" stroke="#fff" stroke-width="2.6"/><line x1="351.2" y1="1756.5" x2="351.2" y2="1750.5" stroke="#fff" stroke-width="2.6"/><line x1="456.8" y1="1756.5" x2="456.8" y2="1743.5" stroke="#fff" stroke-width="2.6"/><line x1="562.4" y1="1756.5" x2="562.4" y2="1750.5" stroke="#fff" stroke-width="2.6"/><line x1="668.0" y1="1756.5" x2="668.0" y2="1743.5" stroke="#fff" stroke-width="2.6"/><line x1="204.6" y1="1512.6" x2="215.6" y2="1512.6" stroke="#fff" stroke-width="2.6"/><line x1="389.5" y1="1276" x2="389.5" y2="1758" stroke="#f0647f" stroke-width="4.2" stroke-dasharray="25 16.6" stroke-linecap="butt"/><rect x="432.3" y="1527.5" width="252.99999999999994" height="206.29999999999995" fill="#fff"/><rect x="469.3" y="1537" width="209.40000000000003" height="165.70000000000005" fill="none" stroke="#000" stroke-width="1.8"/><line x1="469.3" y1="1551.0" x2="474.3" y2="1551.0" stroke="#000" stroke-width="1.5"/><line x1="469.3" y1="1620.3" x2="474.3" y2="1620.3" stroke="#000" stroke-width="1.5"/><line x1="469.3" y1="1688.2" x2="474.3" y2="1688.2" stroke="#000" stroke-width="1.5"/><line x1="482.8" y1="1702.7" x2="482.8" y2="1697.7" stroke="#000" stroke-width="1.5"/><line x1="574.5" y1="1702.7" x2="574.5" y2="1697.7" stroke="#000" stroke-width="1.5"/><line x1="665.7" y1="1702.7" x2="665.7" y2="1697.7" stroke="#000" stroke-width="1.5"/><polyline points="482.9,1679.3 495.7,1681.3 509.0,1685.2 521.8,1667.6 534.7,1677.4 548.3,1638.5 561.5,1667.6 574.4,1554.8 587.2,1667.6 600.4,1640.4 613.3,1677.4 626.1,1667.6 639.4,1685.2 652.2,1681.3 665.1,1684.0" fill="none" stroke="#f0647f" stroke-width="3.2" stroke-linejoin="miter"/><circle cx="482.9" cy="1680.1" r="6.3" fill="url(#ballP)"/><circle cx="495.7" cy="1681.3" r="6.3" fill="url(#ballP)"/><circle cx="509.0" cy="1685.2" r="6.3" fill="url(#ballP)"/><circle cx="521.8" cy="1665.7" r="6.3" fill="url(#ballP)"/><circle cx="534.7" cy="1677.4" r="6.3" fill="url(#ballP)"/><circle cx="548.3" cy="1626.8" r="6.3" fill="url(#ballP)"/><circle cx="561.5" cy="1654.0" r="6.3" fill="url(#ballP)"/><circle cx="574.4" cy="1550.1" r="6.3" fill="url(#ballP)"/><circle cx="587.2" cy="1656.0" r="6.3" fill="url(#ballP)"/><circle cx="600.4" cy="1634.6" r="6.3" fill="url(#ballP)"/><circle cx="613.3" cy="1676.6" r="6.3" fill="url(#ballP)"/><circle cx="626.1" cy="1667.6" r="6.3" fill="url(#ballP)"/><circle cx="639.4" cy="1685.2" r="6.3" fill="url(#ballP)"/><circle cx="652.2" cy="1681.3" r="6.3" fill="url(#ballP)"/><circle cx="665.1" cy="1683.2" r="6.3" fill="url(#ballP)"/><text transform="translate(460.3,1623.85) rotate(-90)" font-size="30" text-anchor="middle">|<tspan font-style="italic">p</tspan>|</text><text x="575.0" y="1730.3" font-size="25" fill="#000" text-anchor="middle" >n</text><line x1="590" y1="1555.5" x2="623" y2="1555.5" stroke="#000" stroke-width="3"/><text x="624.0" y="1566.0" font-size="27" fill="#000" text-anchor="start" >Sim.</text><text x="624.0" y="1594.0" font-size="27" fill="#000" text-anchor="start" >Exp.</text><circle cx="606.3" cy="1582" r="6" fill="url(#ballK)"/><rect x="202.6" y="1268.7" width="510.19999999999993" height="487.79999999999995" fill="none" stroke="#111" stroke-width="2.6"/></g><g><rect x="763" y="1268.70" width="511" height="18.02" fill="url(#g62)"/><rect x="763" y="1286.12" width="511" height="35.44" fill="url(#g63)"/><rect x="763" y="1320.96" width="511" height="35.44" fill="url(#g64)"/><rect x="763" y="1355.81" width="511" height="35.44" fill="url(#g65)"/><rect x="763" y="1390.65" width="511" height="35.44" fill="url(#g66)"/><rect x="763" y="1425.49" width="511" height="35.44" fill="url(#g67)"/><rect x="763" y="1460.34" width="511" height="35.44" fill="url(#g68)"/><rect x="763" y="1495.18" width="511" height="35.44" fill="url(#g69)"/><rect x="763" y="1530.02" width="511" height="35.44" fill="url(#g70)"/><rect x="763" y="1564.86" width="511" height="35.44" fill="url(#g71)"/><rect x="763" y="1599.71" width="511" height="35.44" fill="url(#g72)"/><rect x="763" y="1634.55" width="511" height="35.44" fill="url(#g73)"/><rect x="763" y="1669.39" width="511" height="35.44" fill="url(#g74)"/><rect x="763" y="1704.24" width="511" height="35.44" fill="url(#g75)"/><rect x="763" y="1739.08" width="511" height="18.02" fill="url(#g76)"/><line x1="806.0" y1="1756.5" x2="806.0" y2="1743.5" stroke="#fff" stroke-width="2.6"/><line x1="911.8" y1="1756.5" x2="911.8" y2="1750.5" stroke="#fff" stroke-width="2.6"/><line x1="1017.6" y1="1756.5" x2="1017.6" y2="1743.5" stroke="#fff" stroke-width="2.6"/><line x1="1123.4" y1="1756.5" x2="1123.4" y2="1750.5" stroke="#fff" stroke-width="2.6"/><line x1="1229.1" y1="1756.5" x2="1229.1" y2="1743.5" stroke="#fff" stroke-width="2.6"/><line x1="765" y1="1512.6" x2="776" y2="1512.6" stroke="#fff" stroke-width="2.6"/><line x1="893.4" y1="1278" x2="893.4" y2="1758" stroke="#3b3b3b" stroke-width="5" stroke-dasharray="20 21.6" stroke-linecap="round"/><rect x="994.6" y="1529.3" width="253.9999999999999" height="206.29999999999995" fill="#fff"/><rect x="1030.7" y="1537.9" width="209.0" height="165.79999999999995" fill="none" stroke="#000" stroke-width="1.8"/><line x1="1030.7" y1="1551.9" x2="1035.7" y2="1551.9" stroke="#000" stroke-width="1.5"/><line x1="1030.7" y1="1621.3" x2="1035.7" y2="1621.3" stroke="#000" stroke-width="1.5"/><line x1="1030.7" y1="1689.2" x2="1035.7" y2="1689.2" stroke="#000" stroke-width="1.5"/><line x1="1044.2" y1="1703.7" x2="1044.2" y2="1698.7" stroke="#000" stroke-width="1.5"/><line x1="1135.7" y1="1703.7" x2="1135.7" y2="1698.7" stroke="#000" stroke-width="1.5"/><line x1="1226.7" y1="1703.7" x2="1226.7" y2="1698.7" stroke="#000" stroke-width="1.5"/><polyline points="1043.6,1664.4 1056.0,1567.5 1069.6,1557.7 1083.3,1605.2 1096.1,1631.7 1109.3,1606.0 1122.2,1578.0 1135.8,1551.5 1148.6,1585.8 1161.1,1609.1 1173.9,1638.3 1187.2,1609.1 1200.0,1561.6 1212.8,1567.5 1226.1,1667.5" fill="none" stroke="#808080" stroke-width="3.2" stroke-linejoin="miter"/><circle cx="1043.2" cy="1648.0" r="6.3" fill="url(#ballG)"/><circle cx="1056.0" cy="1617.7" r="6.3" fill="url(#ballG)"/><circle cx="1070.4" cy="1607.9" r="6.3" fill="url(#ballG)"/><circle cx="1083.3" cy="1638.3" r="6.3" fill="url(#ballG)"/><circle cx="1095.7" cy="1642.2" r="6.3" fill="url(#ballG)"/><circle cx="1108.6" cy="1639.1" r="6.3" fill="url(#ballG)"/><circle cx="1122.2" cy="1591.6" r="6.3" fill="url(#ballG)"/><circle cx="1135.0" cy="1578.0" r="6.3" fill="url(#ballG)"/><circle cx="1148.2" cy="1612.2" r="6.3" fill="url(#ballG)"/><circle cx="1161.1" cy="1614.2" r="6.3" fill="url(#ballG)"/><circle cx="1173.9" cy="1671.4" r="6.3" fill="url(#ballG)"/><circle cx="1186.4" cy="1620.8" r="6.3" fill="url(#ballG)"/><circle cx="1200.0" cy="1580.7" r="6.3" fill="url(#ballG)"/><circle cx="1212.8" cy="1551.1" r="6.3" fill="url(#ballG)"/><circle cx="1226.1" cy="1644.1" r="6.3" fill="url(#ballG)"/><text transform="translate(1021.7,1624.8000000000002) rotate(-90)" font-size="30" text-anchor="middle">|<tspan font-style="italic">p</tspan>|</text><text x="1136.2" y="1732.1" font-size="25" fill="#000" text-anchor="middle" >n</text><rect x="763" y="1268.7" width="511" height="487.79999999999995" fill="none" stroke="#111" stroke-width="2.6"/></g><g><rect x="1325.5" y="1268.70" width="510.5" height="18.02" fill="url(#g77)"/><rect x="1325.5" y="1286.12" width="510.5" height="35.44" fill="url(#g78)"/><rect x="1325.5" y="1320.96" width="510.5" height="35.44" fill="url(#g79)"/><rect x="1325.5" y="1355.81" width="510.5" height="35.44" fill="url(#g80)"/><rect x="1325.5" y="1390.65" width="510.5" height="35.44" fill="url(#g81)"/><rect x="1325.5" y="1425.49" width="510.5" height="35.44" fill="url(#g82)"/><rect x="1325.5" y="1460.34" width="510.5" height="35.44" fill="url(#g83)"/><rect x="1325.5" y="1495.18" width="510.5" height="35.44" fill="url(#g84)"/><rect x="1325.5" y="1530.02" width="510.5" height="35.44" fill="url(#g85)"/><rect x="1325.5" y="1564.86" width="510.5" height="35.44" fill="url(#g86)"/><rect x="1325.5" y="1599.71" width="510.5" height="35.44" fill="url(#g87)"/><rect x="1325.5" y="1634.55" width="510.5" height="35.44" fill="url(#g88)"/><rect x="1325.5" y="1669.39" width="510.5" height="35.44" fill="url(#g89)"/><rect x="1325.5" y="1704.24" width="510.5" height="35.44" fill="url(#g90)"/><rect x="1325.5" y="1739.08" width="510.5" height="18.02" fill="url(#g91)"/><line x1="1368.5" y1="1756.5" x2="1368.5" y2="1743.5" stroke="#fff" stroke-width="2.6"/><line x1="1474.2" y1="1756.5" x2="1474.2" y2="1750.5" stroke="#fff" stroke-width="2.6"/><line x1="1579.8" y1="1756.5" x2="1579.8" y2="1743.5" stroke="#fff" stroke-width="2.6"/><line x1="1685.5" y1="1756.5" x2="1685.5" y2="1750.5" stroke="#fff" stroke-width="2.6"/><line x1="1791.2" y1="1756.5" x2="1791.2" y2="1743.5" stroke="#fff" stroke-width="2.6"/><line x1="1327.5" y1="1512.6" x2="1338.5" y2="1512.6" stroke="#fff" stroke-width="2.6"/><line x1="1501" y1="1276" x2="1501" y2="1758" stroke="#f0647f" stroke-width="4.2" stroke-dasharray="25 16.6" stroke-linecap="butt"/><rect x="1555.7" y="1528.6" width="254.89999999999986" height="206.20000000000005" fill="#fff"/><rect x="1592.7" y="1537" width="209.29999999999995" height="165.5" fill="none" stroke="#000" stroke-width="1.8"/><line x1="1592.7" y1="1551.0" x2="1597.7" y2="1551.0" stroke="#000" stroke-width="1.5"/><line x1="1592.7" y1="1620.2" x2="1597.7" y2="1620.2" stroke="#000" stroke-width="1.5"/><line x1="1592.7" y1="1688.0" x2="1597.7" y2="1688.0" stroke="#000" stroke-width="1.5"/><line x1="1606.2" y1="1702.5" x2="1606.2" y2="1697.5" stroke="#000" stroke-width="1.5"/><line x1="1697.8" y1="1702.5" x2="1697.8" y2="1697.5" stroke="#000" stroke-width="1.5"/><line x1="1789.0" y1="1702.5" x2="1789.0" y2="1697.5" stroke="#000" stroke-width="1.5"/><polyline points="1606.3,1686.1 1619.1,1686.1 1632.4,1686.1 1645.2,1683.0 1658.1,1675.3 1671.3,1648.0 1684.1,1626.6 1697.7,1557.7 1710.6,1628.6 1723.8,1651.9 1736.7,1679.1 1749.5,1683.0 1762.7,1686.9 1775.6,1688.1 1788.4,1686.9" fill="none" stroke="#f0647f" stroke-width="3.2" stroke-linejoin="miter"/><circle cx="1606.3" cy="1686.1" r="6.3" fill="url(#ballP)"/><circle cx="1619.1" cy="1686.1" r="6.3" fill="url(#ballP)"/><circle cx="1632.4" cy="1686.1" r="6.3" fill="url(#ballP)"/><circle cx="1645.2" cy="1681.1" r="6.3" fill="url(#ballP)"/><circle cx="1658.1" cy="1673.3" r="6.3" fill="url(#ballP)"/><circle cx="1671.3" cy="1631.7" r="6.3" fill="url(#ballP)"/><circle cx="1684.1" cy="1590.4" r="6.3" fill="url(#ballP)"/><circle cx="1697.7" cy="1550.0" r="6.3" fill="url(#ballP)"/><circle cx="1710.6" cy="1590.4" r="6.3" fill="url(#ballP)"/><circle cx="1723.8" cy="1622.7" r="6.3" fill="url(#ballP)"/><circle cx="1736.7" cy="1662.4" r="6.3" fill="url(#ballP)"/><circle cx="1749.5" cy="1669.4" r="6.3" fill="url(#ballP)"/><circle cx="1762.7" cy="1685.0" r="6.3" fill="url(#ballP)"/><circle cx="1775.6" cy="1677.2" r="6.3" fill="url(#ballP)"/><circle cx="1788.4" cy="1681.1" r="6.3" fill="url(#ballP)"/><text transform="translate(1583.7,1623.75) rotate(-90)" font-size="30" text-anchor="middle">|<tspan font-style="italic">p</tspan>|</text><text x="1698.3" y="1731.3" font-size="25" fill="#000" text-anchor="middle" >n</text><rect x="1325.5" y="1268.7" width="510.5" height="487.79999999999995" fill="none" stroke="#111" stroke-width="2.6"/></g><text x="186.0" y="1297.0" font-size="38" fill="#000" text-anchor="end" >7</text><text x="187.0" y="1527.0" font-size="38" fill="#000" text-anchor="end" >0</text><text x="186.0" y="1760.0" font-size="38" fill="#000" text-anchor="end" >−7</text><text transform="translate(130,1515) rotate(-90)" font-size="38" text-anchor="middle">n</text><text x="243.6" y="1814.0" font-size="38.5" fill="#000" text-anchor="middle" >3.25</text><text x="458.4" y="1814.0" font-size="38.5" fill="#000" text-anchor="middle" >3.40</text><text x="671.3" y="1814.0" font-size="38.5" fill="#000" text-anchor="middle" >3.55</text><text x="455.85" y="1870.5" font-size="38.5" text-anchor="middle">Re(<tspan font-style="italic">f</tspan>) (kHz)</text><text x="804.0" y="1814.0" font-size="38.5" fill="#000" text-anchor="middle" >3.25</text><text x="1018.8" y="1814.0" font-size="38.5" fill="#000" text-anchor="middle" >3.40</text><text x="1231.7" y="1814.0" font-size="38.5" fill="#000" text-anchor="middle" >3.55</text><text x="1016.25" y="1870.5" font-size="38.5" text-anchor="middle">Re(<tspan font-style="italic">f</tspan>) (kHz)</text><text x="1366.5" y="1814.0" font-size="38.5" fill="#000" text-anchor="middle" >3.25</text><text x="1581.3" y="1814.0" font-size="38.5" fill="#000" text-anchor="middle" >3.40</text><text x="1794.2" y="1814.0" font-size="38.5" fill="#000" text-anchor="middle" >3.55</text><text x="1578.75" y="1870.5" font-size="38.5" text-anchor="middle">Re(<tspan font-style="italic">f</tspan>) (kHz)</text><rect x="1876" y="1334.5" width="27" height="382" fill="url(#g92)" stroke="#111" stroke-width="2"/><text x="1850.0" y="1319.0" font-size="38" fill="#000" text-anchor="start" >Max.</text><text x="1892.0" y="1763.0" font-size="38" fill="#000" text-anchor="middle" >0</text><text transform="translate(1937,1525) rotate(90)" font-size="40" text-anchor="middle">Amplitude (arb. units)</text></svg></body></html>
